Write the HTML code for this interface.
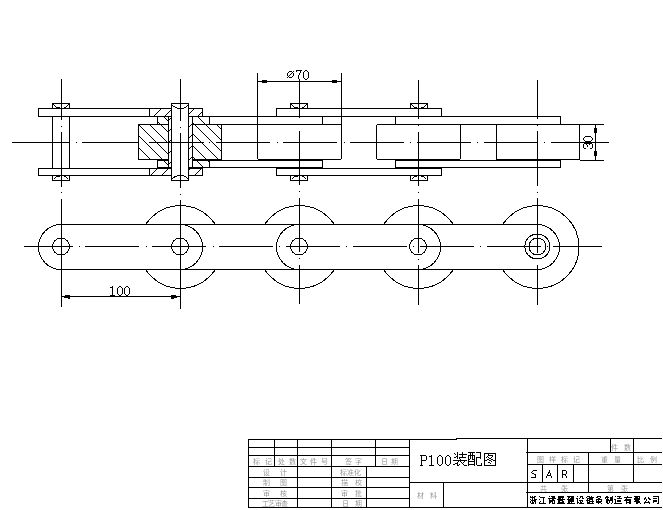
<!DOCTYPE html>
<html><head><meta charset="utf-8"><style>
html,body{margin:0;padding:0;background:#fff;width:663px;height:510px;overflow:hidden}
svg{display:block}
</style></head><body>
<svg width="663" height="510" viewBox="0 0 663 510" shape-rendering="crispEdges" font-family="Liberation Sans, sans-serif">
<path fill="#000" d="M12 142h58v1h-58zM76 142h1v1h-1zM82 142h54v1h-54zM143 142h1v1h-1zM149 142h54v1h-54zM210 142h1v1h-1zM216 142h54v1h-54zM277 142h1v1h-1zM283 142h54v1h-54zM344 142h1v1h-1zM350 142h54v1h-54zM410 142h1v1h-1zM417 142h54v1h-54zM477 142h1v1h-1zM484 142h54v1h-54zM544 142h1v1h-1zM551 142h58v1h-58zM61 79h1v41h-1zM61 132h1v55h-1zM61 199h1v108h-1zM61 126h1v1h-1zM61 192h1v1h-1zM180 79h1v42h-1zM180 133h1v55h-1zM180 200h1v109h-1zM180 127h1v1h-1zM180 194h1v1h-1zM299 81h1v37h-1zM299 131h1v54h-1zM299 198h1v54h-1zM299 265h1v39h-1zM299 191h1v1h-1zM299 258h1v1h-1zM418 80h1v39h-1zM418 132h1v54h-1zM418 199h1v54h-1zM418 265h1v40h-1zM418 125h1v1h-1zM418 192h1v1h-1zM418 259h1v1h-1zM537 80h1v39h-1zM537 131h1v55h-1zM537 198h1v55h-1zM537 265h1v40h-1zM537 125h1v1h-1zM537 192h1v1h-1zM38 108h165v1h-165zM38 116h165v1h-165zM38 108h1v9h-1zM202 108h1v9h-1zM38 168h165v1h-165zM38 175h165v1h-165zM38 168h1v8h-1zM202 168h1v8h-1zM276 108h166v1h-166zM276 116h166v1h-166zM276 108h1v9h-1zM441 108h1v9h-1zM276 168h166v1h-166zM276 175h166v1h-166zM276 168h1v8h-1zM441 168h1v8h-1zM157 116h166v1h-166zM157 124h166v1h-166zM157 116h1v9h-1zM322 116h1v9h-1zM157 160h166v1h-166zM157 167h166v1h-166zM157 160h1v8h-1zM322 160h1v8h-1zM395 116h166v1h-166zM395 124h166v1h-166zM395 116h1v9h-1zM560 116h1v9h-1zM395 160h166v1h-166zM395 167h166v1h-166zM395 160h1v8h-1zM560 160h1v8h-1z"/>
<rect x="257.5" y="124.5" width="84" height="35" rx="2" ry="2" fill="none" stroke="#000" stroke-width="1"/>
<rect x="376.5" y="124.5" width="84" height="35" rx="2" ry="2" fill="none" stroke="#000" stroke-width="1"/>
<rect x="496.5" y="124.5" width="83" height="35" fill="none" stroke="#000" stroke-width="1"/>
<path fill="#000" d="M52 103h18v1h-18zM52 103h1v6h-1zM69 103h1v6h-1zM52 180h18v1h-18zM52 175h1v6h-1zM69 175h1v6h-1z"/>
<path d="M53.5 104.5 L56.5 107.5 L59.5 107.5 M68.5 104.5 L65.5 107.5 L63.5 107.5" fill="none" stroke="#000" stroke-width="1"/>
<path d="M53.5 179.5 L56.5 176.5 L59.5 176.5 M68.5 179.5 L65.5 176.5 L63.5 176.5" fill="none" stroke="#000" stroke-width="1"/>
<path fill="#000" d="M290 103h18v1h-18zM290 103h1v6h-1zM307 103h1v6h-1zM290 180h18v1h-18zM290 175h1v6h-1zM307 175h1v6h-1z"/>
<path d="M291.5 104.5 L294.5 107.5 L297.5 107.5 M306.5 104.5 L303.5 107.5 L301.5 107.5" fill="none" stroke="#000" stroke-width="1"/>
<path d="M291.5 179.5 L294.5 176.5 L297.5 176.5 M306.5 179.5 L303.5 176.5 L301.5 176.5" fill="none" stroke="#000" stroke-width="1"/>
<path fill="#000" d="M410 103h18v1h-18zM410 103h1v6h-1zM427 103h1v6h-1zM410 180h18v1h-18zM410 175h1v6h-1zM427 175h1v6h-1z"/>
<path d="M411.5 104.5 L414.5 107.5 L416.5 107.5 M426.5 104.5 L423.5 107.5 L420.5 107.5" fill="none" stroke="#000" stroke-width="1"/>
<path d="M411.5 179.5 L414.5 176.5 L416.5 176.5 M426.5 179.5 L423.5 176.5 L420.5 176.5" fill="none" stroke="#000" stroke-width="1"/>
<path fill="#000" d="M52 116h1v53h-1zM69 116h1v53h-1z"/>
<path fill="#fff" d="M138 103h84v78h-84z"/>
<path fill="#000" d="M138 158h1v1h-1zM139 159h1v1h-1zM138 147h1v1h-1zM139 148h1v1h-1zM140 149h1v1h-1zM141 150h1v1h-1zM142 151h1v1h-1zM143 152h1v1h-1zM144 153h1v1h-1zM145 154h1v1h-1zM146 155h1v1h-1zM147 156h1v1h-1zM148 157h1v1h-1zM149 158h1v1h-1zM150 159h1v1h-1zM138 135h1v1h-1zM139 136h1v1h-1zM140 137h1v1h-1zM141 138h1v1h-1zM142 139h1v1h-1zM143 140h1v1h-1zM144 141h1v1h-1zM145 142h1v1h-1zM146 143h1v1h-1zM147 144h1v1h-1zM148 145h1v1h-1zM149 146h1v1h-1zM150 147h1v1h-1zM151 148h1v1h-1zM152 149h1v1h-1zM153 150h1v1h-1zM154 151h1v1h-1zM155 152h1v1h-1zM156 153h1v1h-1zM157 154h1v1h-1zM158 155h1v1h-1zM159 156h1v1h-1zM160 157h1v1h-1zM161 158h1v1h-1zM162 159h1v1h-1zM138 124h1v1h-1zM139 125h1v1h-1zM140 126h1v1h-1zM141 127h1v1h-1zM142 128h1v1h-1zM143 129h1v1h-1zM144 130h1v1h-1zM145 131h1v1h-1zM146 132h1v1h-1zM147 133h1v1h-1zM148 134h1v1h-1zM149 135h1v1h-1zM150 136h1v1h-1zM151 137h1v1h-1zM152 138h1v1h-1zM153 139h1v1h-1zM154 140h1v1h-1zM155 141h1v1h-1zM156 142h1v1h-1zM157 143h1v1h-1zM158 144h1v1h-1zM159 145h1v1h-1zM160 146h1v1h-1zM161 147h1v1h-1zM162 148h1v1h-1zM163 149h1v1h-1zM164 150h1v1h-1zM165 151h1v1h-1zM166 152h1v1h-1zM167 153h1v1h-1zM168 154h1v1h-1zM149 124h1v1h-1zM150 125h1v1h-1zM151 126h1v1h-1zM152 127h1v1h-1zM153 128h1v1h-1zM154 129h1v1h-1zM155 130h1v1h-1zM156 131h1v1h-1zM157 132h1v1h-1zM158 133h1v1h-1zM159 134h1v1h-1zM160 135h1v1h-1zM161 136h1v1h-1zM162 137h1v1h-1zM163 138h1v1h-1zM164 139h1v1h-1zM165 140h1v1h-1zM166 141h1v1h-1zM167 142h1v1h-1zM168 143h1v1h-1zM160 124h1v1h-1zM161 125h1v1h-1zM162 126h1v1h-1zM163 127h1v1h-1zM164 128h1v1h-1zM165 129h1v1h-1zM166 130h1v1h-1zM167 131h1v1h-1zM168 132h1v1h-1zM192 156h1v1h-1zM193 157h1v1h-1zM194 158h1v1h-1zM195 159h1v1h-1zM192 145h1v1h-1zM193 146h1v1h-1zM194 147h1v1h-1zM195 148h1v1h-1zM196 149h1v1h-1zM197 150h1v1h-1zM198 151h1v1h-1zM199 152h1v1h-1zM200 153h1v1h-1zM201 154h1v1h-1zM202 155h1v1h-1zM203 156h1v1h-1zM204 157h1v1h-1zM205 158h1v1h-1zM206 159h1v1h-1zM192 133h1v1h-1zM193 134h1v1h-1zM194 135h1v1h-1zM195 136h1v1h-1zM196 137h1v1h-1zM197 138h1v1h-1zM198 139h1v1h-1zM199 140h1v1h-1zM200 141h1v1h-1zM201 142h1v1h-1zM202 143h1v1h-1zM203 144h1v1h-1zM204 145h1v1h-1zM205 146h1v1h-1zM206 147h1v1h-1zM207 148h1v1h-1zM208 149h1v1h-1zM209 150h1v1h-1zM210 151h1v1h-1zM211 152h1v1h-1zM212 153h1v1h-1zM213 154h1v1h-1zM214 155h1v1h-1zM215 156h1v1h-1zM216 157h1v1h-1zM217 158h1v1h-1zM218 159h1v1h-1zM194 124h1v1h-1zM195 125h1v1h-1zM196 126h1v1h-1zM197 127h1v1h-1zM198 128h1v1h-1zM199 129h1v1h-1zM200 130h1v1h-1zM201 131h1v1h-1zM202 132h1v1h-1zM203 133h1v1h-1zM204 134h1v1h-1zM205 135h1v1h-1zM206 136h1v1h-1zM207 137h1v1h-1zM208 138h1v1h-1zM209 139h1v1h-1zM210 140h1v1h-1zM211 141h1v1h-1zM212 142h1v1h-1zM213 143h1v1h-1zM214 144h1v1h-1zM215 145h1v1h-1zM216 146h1v1h-1zM217 147h1v1h-1zM218 148h1v1h-1zM219 149h1v1h-1zM220 150h1v1h-1zM221 151h1v1h-1zM205 124h1v1h-1zM206 125h1v1h-1zM207 126h1v1h-1zM208 127h1v1h-1zM209 128h1v1h-1zM210 129h1v1h-1zM211 130h1v1h-1zM212 131h1v1h-1zM213 132h1v1h-1zM214 133h1v1h-1zM215 134h1v1h-1zM216 135h1v1h-1zM217 136h1v1h-1zM218 137h1v1h-1zM219 138h1v1h-1zM220 139h1v1h-1zM221 140h1v1h-1zM216 124h1v1h-1zM217 125h1v1h-1zM218 126h1v1h-1zM219 127h1v1h-1zM220 128h1v1h-1zM221 129h1v1h-1zM157 121h1v1h-1zM158 122h1v1h-1zM159 123h1v1h-1zM160 124h1v1h-1zM163 116h1v1h-1zM164 117h1v1h-1zM165 118h1v1h-1zM166 119h1v1h-1zM167 120h1v1h-1zM168 121h1v1h-1zM192 122h1v1h-1zM193 123h1v1h-1zM194 124h1v1h-1zM197 116h1v1h-1zM198 117h1v1h-1zM199 118h1v1h-1zM200 119h1v1h-1zM201 120h1v1h-1zM202 121h1v1h-1zM203 122h1v1h-1zM204 123h1v1h-1zM205 124h1v1h-1zM208 116h1v1h-1zM209 117h1v1h-1zM157 166h1v1h-1zM158 167h1v1h-1zM163 160h1v1h-1zM164 161h1v1h-1zM165 162h1v1h-1zM166 163h1v1h-1zM167 164h1v1h-1zM168 165h1v1h-1zM192 167h1v1h-1zM196 160h1v1h-1zM197 161h1v1h-1zM198 162h1v1h-1zM199 163h1v1h-1zM200 164h1v1h-1zM201 165h1v1h-1zM202 166h1v1h-1zM203 167h1v1h-1zM207 160h1v1h-1zM208 161h1v1h-1zM209 162h1v1h-1zM150 108h1v1h-1zM149 109h1v1h-1zM161 108h1v1h-1zM160 109h1v1h-1zM159 110h1v1h-1zM158 111h1v1h-1zM157 112h1v1h-1zM156 113h1v1h-1zM155 114h1v1h-1zM154 115h1v1h-1zM153 116h1v1h-1zM170 110h1v1h-1zM169 111h1v1h-1zM168 112h1v1h-1zM167 113h1v1h-1zM166 114h1v1h-1zM165 115h1v1h-1zM164 116h1v1h-1zM194 108h1v1h-1zM193 109h1v1h-1zM192 110h1v1h-1zM191 111h1v1h-1zM190 112h1v1h-1zM189 113h1v1h-1zM202 111h1v1h-1zM201 112h1v1h-1zM200 113h1v1h-1zM199 114h1v1h-1zM198 115h1v1h-1zM197 116h1v1h-1zM157 168h1v1h-1zM156 169h1v1h-1zM155 170h1v1h-1zM154 171h1v1h-1zM153 172h1v1h-1zM152 173h1v1h-1zM151 174h1v1h-1zM150 175h1v1h-1zM168 168h1v1h-1zM167 169h1v1h-1zM166 170h1v1h-1zM165 171h1v1h-1zM164 172h1v1h-1zM163 173h1v1h-1zM162 174h1v1h-1zM161 175h1v1h-1zM190 168h1v1h-1zM189 169h1v1h-1zM201 168h1v1h-1zM200 169h1v1h-1zM199 170h1v1h-1zM198 171h1v1h-1zM197 172h1v1h-1zM196 173h1v1h-1zM195 174h1v1h-1zM194 175h1v1h-1zM149 108h54v1h-54zM38 116h165v1h-165zM149 108h1v9h-1zM202 108h1v9h-1zM38 108h112v1h-112zM38 168h165v1h-165zM149 175h54v1h-54zM149 168h1v8h-1zM202 168h1v8h-1zM38 175h112v1h-112zM157 124h12v1h-12zM192 124h30v1h-30zM157 116h1v9h-1zM209 116h1v9h-1zM157 160h12v1h-12zM192 160h30v1h-30zM157 160h1v8h-1zM209 160h1v8h-1zM38 116h285v1h-285zM157 167h166v1h-166zM138 124h31v1h-31zM138 159h31v1h-31zM138 124h1v36h-1zM192 124h30v1h-30zM192 159h30v1h-30zM221 124h1v36h-1zM168 116h1v52h-1zM192 116h1v52h-1zM170 118h1v1h-1zM169 119h1v1h-1zM170 129h1v1h-1zM169 130h1v1h-1zM170 140h1v1h-1zM169 141h1v1h-1zM170 151h1v1h-1zM169 152h1v1h-1zM170 162h1v1h-1zM169 163h1v1h-1zM191 124h1v1h-1zM190 125h1v1h-1zM189 126h1v1h-1zM191 135h1v1h-1zM190 136h1v1h-1zM189 137h1v1h-1zM191 146h1v1h-1zM190 147h1v1h-1zM189 148h1v1h-1zM191 157h1v1h-1zM190 158h1v1h-1zM189 159h1v1h-1z"/>
<path fill="#fff" d="M172 104h16v76h-16z"/>
<path fill="#000" d="M171 103h1v78h-1zM188 103h1v78h-1zM171 103h18v1h-18zM171 180h18v1h-18z"/>
<path d="M171.5 104.5 Q175 108.5 180.5 108.5 Q186 108.5 188.5 104.5" fill="none" stroke="#000" stroke-width="1"/>
<path d="M171.5 179.5 Q175 175.5 180.5 175.5 Q186 175.5 188.5 179.5" fill="none" stroke="#000" stroke-width="1"/>
<path fill="#000" d="M180 79h1v42h-1zM180 133h1v55h-1zM180 127h1v1h-1zM130 142h8v1h-8zM149 142h55v1h-55zM209 142h1v1h-1zM216 142h6v1h-6zM257 73h1v52h-1zM341 73h1v52h-1zM257 81h85v1h-85zM262 80h5v3h-5zM332 80h5v3h-5zM580 124h24v1h-24zM580 160h24v1h-24zM595 124h1v37h-1zM594 128h3v5h-3zM594 151h3v5h-3z"/>
<circle cx="180.5" cy="247" r="41.5" fill="none" stroke="#000" stroke-width="1"/>
<circle cx="299.5" cy="247" r="41.5" fill="none" stroke="#000" stroke-width="1"/>
<circle cx="418.5" cy="247" r="41.5" fill="none" stroke="#000" stroke-width="1"/>
<circle cx="537.5" cy="247" r="41.5" fill="none" stroke="#000" stroke-width="1"/>
<path fill="#fff" d="M61 225h477v44h-477z"/>
<circle cx="61.5" cy="247" r="22" fill="#fff"/>
<circle cx="537.5" cy="247" r="22" fill="#fff"/>
<path fill="#000" d="M61 224h477v1h-477zM61 269h477v1h-477z"/>
<path d="M61 224.5 A22.5 22.5 0 0 0 61 269.5" fill="none" stroke="#000" stroke-width="1"/>
<path d="M180 224.5 A22.5 22.5 0 0 1 180 269.5" fill="none" stroke="#000" stroke-width="1"/>
<path d="M299 224.5 A22.5 22.5 0 0 0 299 269.5" fill="none" stroke="#000" stroke-width="1"/>
<path d="M418 224.5 A22.5 22.5 0 0 1 418 269.5" fill="none" stroke="#000" stroke-width="1"/>
<path d="M537 224.5 A22.5 22.5 0 0 1 537 269.5" fill="none" stroke="#000" stroke-width="1"/>
<path fill="#000" d="M24 246h49v1h-49zM79 246h1v1h-1zM85 246h54v1h-54zM146 246h1v1h-1zM152 246h54v1h-54zM213 246h1v1h-1zM219 246h54v1h-54zM279 246h1v1h-1zM286 246h54v1h-54zM346 246h1v1h-1zM353 246h54v1h-54zM413 246h1v1h-1zM420 246h54v1h-54zM480 246h1v1h-1zM487 246h54v1h-54zM547 246h1v1h-1zM553 246h49v1h-49zM61 199h1v108h-1zM180 200h1v109h-1zM299 198h1v54h-1zM299 265h1v39h-1zM299 258h1v1h-1zM418 199h1v54h-1zM418 265h1v40h-1zM418 259h1v1h-1zM537 198h1v55h-1zM537 265h1v40h-1z"/>
<circle cx="61" cy="246.5" r="8.5" fill="none" stroke="#000" stroke-width="1"/>
<circle cx="180" cy="246.5" r="8.5" fill="none" stroke="#000" stroke-width="1"/>
<circle cx="299" cy="246.5" r="8.5" fill="none" stroke="#000" stroke-width="1"/>
<circle cx="418" cy="246.5" r="8.5" fill="none" stroke="#000" stroke-width="1"/>
<circle cx="537.4" cy="246.5" r="8.5" fill="none" stroke="#000" stroke-width="1"/>
<circle cx="537.4" cy="246.5" r="12.5" fill="none" stroke="#000" stroke-width="1"/>
<path fill="#000" d="M61 296h120v1h-120zM65 295h5v1h-5zM64 296h6v1h-6zM64 297h6v1h-6zM68 298h2v1h-2zM171 295h5v1h-5zM171 296h7v1h-7zM171 297h6v1h-6zM171 298h3v1h-3zM420 455h6v1h-6zM421 456h1v1h-1zM426 456h1v1h-1zM421 457h1v1h-1zM426 457h1v1h-1zM421 458h1v1h-1zM426 458h1v1h-1zM421 459h1v1h-1zM426 459h1v1h-1zM421 460h5v1h-5zM421 461h1v1h-1zM421 462h1v1h-1zM421 463h1v1h-1zM421 464h1v1h-1zM420 465h3v1h-3zM431 455h1v1h-1zM429 456h3v1h-3zM431 457h1v1h-1zM431 458h1v1h-1zM431 459h1v1h-1zM431 460h1v1h-1zM431 461h1v1h-1zM431 462h1v1h-1zM431 463h1v1h-1zM431 464h1v1h-1zM429 465h5v1h-5zM439 455h2v1h-2zM438 456h1v1h-1zM441 456h1v1h-1zM437 457h1v1h-1zM442 457h1v1h-1zM437 458h1v1h-1zM442 458h1v1h-1zM437 459h1v1h-1zM442 459h1v1h-1zM437 460h1v1h-1zM442 460h1v1h-1zM437 461h1v1h-1zM442 461h1v1h-1zM437 462h1v1h-1zM442 462h1v1h-1zM437 463h1v1h-1zM442 463h1v1h-1zM438 464h1v1h-1zM441 464h1v1h-1zM439 465h2v1h-2zM447 455h2v1h-2zM446 456h1v1h-1zM449 456h1v1h-1zM445 457h1v1h-1zM450 457h1v1h-1zM445 458h1v1h-1zM450 458h1v1h-1zM445 459h1v1h-1zM450 459h1v1h-1zM445 460h1v1h-1zM450 460h1v1h-1zM445 461h1v1h-1zM450 461h1v1h-1zM445 462h1v1h-1zM450 462h1v1h-1zM445 463h1v1h-1zM450 463h1v1h-1zM446 464h1v1h-1zM449 464h1v1h-1zM447 465h2v1h-2zM533 470h4v1h-4zM532 471h1v1h-1zM531 472h1v1h-1zM532 473h2v1h-2zM534 474h2v1h-2zM535 475h1v1h-1zM535 476h1v1h-1zM531 477h5v1h-5zM549 470h1v1h-1zM549 471h1v1h-1zM548 472h2v1h-2zM548 473h1v1h-1zM550 473h1v1h-1zM547 474h1v1h-1zM550 474h1v1h-1zM547 475h4v1h-4zM546 476h1v1h-1zM551 476h1v1h-1zM546 477h1v1h-1zM551 477h1v1h-1zM562 470h4v1h-4zM562 471h1v1h-1zM566 471h1v1h-1zM562 472h1v1h-1zM566 472h1v1h-1zM562 473h1v1h-1zM566 473h1v1h-1zM562 474h4v1h-4zM562 475h1v1h-1zM565 475h1v1h-1zM562 476h1v1h-1zM566 476h1v1h-1zM562 477h1v1h-1zM566 477h1v1h-1zM289 71h3v1h-3zM293 71h1v1h-1zM288 72h1v1h-1zM292 72h1v1h-1zM287 73h1v1h-1zM291 73h1v1h-1zM293 73h1v1h-1zM287 74h1v1h-1zM290 74h1v1h-1zM293 74h1v1h-1zM287 75h1v1h-1zM289 75h1v1h-1zM293 75h1v1h-1zM288 76h1v1h-1zM292 76h1v1h-1zM287 77h1v1h-1zM289 77h3v1h-3zM296 70h6v1h-6zM296 71h1v1h-1zM300 71h1v1h-1zM300 72h1v1h-1zM299 73h1v1h-1zM299 74h1v1h-1zM298 75h1v1h-1zM298 76h1v1h-1zM298 77h1v1h-1zM298 78h1v1h-1zM299 79h1v1h-1zM299 80h1v1h-1zM305 70h2v1h-2zM304 71h1v1h-1zM307 71h1v1h-1zM303 72h1v1h-1zM308 72h1v1h-1zM303 73h1v1h-1zM308 73h1v1h-1zM303 74h1v1h-1zM308 74h1v1h-1zM303 75h1v1h-1zM308 75h1v1h-1zM303 76h1v1h-1zM308 76h1v1h-1zM303 77h1v1h-1zM308 77h1v1h-1zM304 78h1v1h-1zM307 78h1v1h-1zM305 79h2v1h-2zM112 286h1v1h-1zM110 287h3v1h-3zM112 288h1v1h-1zM112 289h1v1h-1zM112 290h1v1h-1zM112 291h1v1h-1zM112 292h1v1h-1zM112 293h1v1h-1zM112 294h1v1h-1zM110 295h5v1h-5zM119 286h2v1h-2zM118 287h1v1h-1zM121 287h1v1h-1zM117 288h1v1h-1zM122 288h1v1h-1zM117 289h1v1h-1zM122 289h1v1h-1zM117 290h1v1h-1zM122 290h1v1h-1zM117 291h1v1h-1zM122 291h1v1h-1zM117 292h1v1h-1zM122 292h1v1h-1zM117 293h1v1h-1zM122 293h1v1h-1zM118 294h1v1h-1zM121 294h1v1h-1zM119 295h2v1h-2zM126 286h2v1h-2zM125 287h1v1h-1zM128 287h1v1h-1zM124 288h1v1h-1zM129 288h1v1h-1zM124 289h1v1h-1zM129 289h1v1h-1zM124 290h1v1h-1zM129 290h1v1h-1zM124 291h1v1h-1zM129 291h1v1h-1zM124 292h1v1h-1zM129 292h1v1h-1zM124 293h1v1h-1zM129 293h1v1h-1zM125 294h1v1h-1zM128 294h1v1h-1zM126 295h2v1h-2zM583 138h1v2h-1zM584 140h1v1h-1zM584 137h1v1h-1zM585 141h1v1h-1zM585 136h1v1h-1zM586 141h1v1h-1zM586 136h1v1h-1zM587 141h1v1h-1zM587 136h1v1h-1zM588 141h1v1h-1zM588 136h1v1h-1zM589 141h1v1h-1zM589 136h1v1h-1zM590 141h1v1h-1zM590 136h1v1h-1zM591 140h1v1h-1zM591 137h1v1h-1zM592 138h1v2h-1zM583 144h1v4h-1zM584 148h1v1h-1zM584 143h1v1h-1zM585 148h1v1h-1zM585 143h1v1h-1zM586 143h1v2h-1zM587 145h1v2h-1zM587 143h1v1h-1zM588 143h1v1h-1zM589 143h1v2h-1zM590 148h1v1h-1zM590 143h1v1h-1zM591 148h1v1h-1zM591 143h1v1h-1zM592 144h1v4h-1z"/>
<path fill="rgb(192,192,192)" d="M254 458h1v1h-1z"/>
<path fill="rgb(213,213,213)" d="M256 458h3v1h-3z"/>
<path fill="rgb(234,234,234)" d="M259 458h1v1h-1z"/>
<path fill="rgb(213,213,213)" d="M253 459h1v1h-1z"/>
<path fill="rgb(171,171,171)" d="M254 459h1v1h-1z"/>
<path fill="rgb(213,213,213)" d="M255 459h1v1h-1z"/>
<path fill="rgb(171,171,171)" d="M254 460h1v1h-1z"/>
<path fill="rgb(234,234,234)" d="M255 460h1v1h-1z"/>
<path fill="rgb(213,213,213)" d="M256 460h4v1h-4z"/>
<path fill="rgb(234,234,234)" d="M253 461h1v1h-1z"/>
<path fill="rgb(171,171,171)" d="M254 461h1v1h-1z"/>
<path fill="rgb(213,213,213)" d="M255 461h1v1h-1z"/>
<path fill="rgb(192,192,192)" d="M257 461h1v1h-1zM253 462h2v1h-2zM256 462h2v1h-2z"/>
<path fill="rgb(213,213,213)" d="M258 462h1v1h-1z"/>
<path fill="rgb(234,234,234)" d="M259 462h1v1h-1z"/>
<path fill="rgb(192,192,192)" d="M254 463h1v1h-1z"/>
<path fill="rgb(234,234,234)" d="M255 463h1v1h-1z"/>
<path fill="rgb(213,213,213)" d="M256 463h1v1h-1z"/>
<path fill="rgb(192,192,192)" d="M257 463h1v1h-1z"/>
<path fill="rgb(213,213,213)" d="M259 463h1v1h-1z"/>
<path fill="rgb(192,192,192)" d="M254 464h1v1h-1z"/>
<path fill="rgb(234,234,234)" d="M256 464h1v1h-1z"/>
<path fill="rgb(192,192,192)" d="M257 464h1v1h-1z"/>
<path fill="rgb(234,234,234)" d="M259 464h1v1h-1z"/>
<path fill="rgb(192,192,192)" d="M266 458h1v1h-1zM268 458h3v1h-3z"/>
<path fill="rgb(234,234,234)" d="M271 458h1v1h-1zM266 459h2v1h-2zM270 459h2v1h-2z"/>
<path fill="rgb(213,213,213)" d="M265 460h1v1h-1z"/>
<path fill="rgb(171,171,171)" d="M266 460h1v1h-1z"/>
<path fill="rgb(234,234,234)" d="M270 460h2v1h-2z"/>
<path fill="rgb(192,192,192)" d="M266 461h1v1h-1z"/>
<path fill="rgb(171,171,171)" d="M268 461h1v1h-1z"/>
<path fill="rgb(192,192,192)" d="M269 461h2v1h-2z"/>
<path fill="rgb(234,234,234)" d="M271 461h1v1h-1z"/>
<path fill="rgb(192,192,192)" d="M266 462h1v1h-1zM268 462h1v1h-1zM266 463h1v1h-1z"/>
<path fill="rgb(213,213,213)" d="M267 463h1v1h-1z"/>
<path fill="rgb(192,192,192)" d="M268 463h1v1h-1z"/>
<path fill="rgb(213,213,213)" d="M271 463h1v1h-1z"/>
<path fill="rgb(192,192,192)" d="M266 464h1v1h-1z"/>
<path fill="rgb(234,234,234)" d="M267 464h1v1h-1z"/>
<path fill="rgb(192,192,192)" d="M268 464h3v1h-3z"/>
<path fill="rgb(213,213,213)" d="M271 464h1v1h-1z"/>
<path fill="rgb(192,192,192)" d="M279 458h1v1h-1zM282 458h1v1h-1zM279 459h2v1h-2z"/>
<path fill="rgb(213,213,213)" d="M281 459h1v1h-1z"/>
<path fill="rgb(192,192,192)" d="M282 459h1v1h-1z"/>
<path fill="rgb(234,234,234)" d="M278 460h1v1h-1z"/>
<path fill="rgb(192,192,192)" d="M279 460h1v1h-1z"/>
<path fill="rgb(234,234,234)" d="M280 460h1v1h-1z"/>
<path fill="rgb(213,213,213)" d="M281 460h1v1h-1z"/>
<path fill="rgb(192,192,192)" d="M282 460h2v1h-2z"/>
<path fill="rgb(213,213,213)" d="M278 461h1v1h-1z"/>
<path fill="rgb(192,192,192)" d="M279 461h1v1h-1z"/>
<path fill="rgb(213,213,213)" d="M280 461h1v1h-1z"/>
<path fill="rgb(234,234,234)" d="M281 461h1v1h-1z"/>
<path fill="rgb(192,192,192)" d="M282 461h1v1h-1z"/>
<path fill="rgb(213,213,213)" d="M283 461h1v1h-1z"/>
<path fill="rgb(234,234,234)" d="M284 461h1v1h-1zM279 462h1v1h-1z"/>
<path fill="rgb(171,171,171)" d="M280 462h1v1h-1z"/>
<path fill="rgb(192,192,192)" d="M282 462h1v1h-1z"/>
<path fill="rgb(213,213,213)" d="M279 463h1v1h-1z"/>
<path fill="rgb(171,171,171)" d="M280 463h1v1h-1z"/>
<path fill="rgb(234,234,234)" d="M281 463h1v1h-1z"/>
<path fill="rgb(213,213,213)" d="M282 463h1v1h-1zM278 464h1v1h-1z"/>
<path fill="rgb(192,192,192)" d="M279 464h1v1h-1zM281 464h3v1h-3z"/>
<path fill="rgb(213,213,213)" d="M284 464h1v1h-1z"/>
<path fill="rgb(234,234,234)" d="M289 458h1v1h-1z"/>
<path fill="rgb(213,213,213)" d="M290 458h3v1h-3z"/>
<path fill="rgb(192,192,192)" d="M293 458h1v1h-1z"/>
<path fill="rgb(213,213,213)" d="M289 459h1v1h-1z"/>
<path fill="rgb(171,171,171)" d="M290 459h2v1h-2z"/>
<path fill="rgb(213,213,213)" d="M292 459h1v1h-1z"/>
<path fill="rgb(171,171,171)" d="M293 459h1v1h-1z"/>
<path fill="rgb(213,213,213)" d="M294 459h2v1h-2z"/>
<path fill="rgb(192,192,192)" d="M290 460h2v1h-2z"/>
<path fill="rgb(213,213,213)" d="M292 460h1v1h-1z"/>
<path fill="rgb(192,192,192)" d="M293 460h1v1h-1z"/>
<path fill="rgb(213,213,213)" d="M294 460h1v1h-1z"/>
<path fill="rgb(234,234,234)" d="M289 461h1v1h-1z"/>
<path fill="rgb(213,213,213)" d="M290 461h1v1h-1z"/>
<path fill="rgb(234,234,234)" d="M291 461h1v1h-1z"/>
<path fill="rgb(213,213,213)" d="M292 461h1v1h-1z"/>
<path fill="rgb(192,192,192)" d="M293 461h2v1h-2z"/>
<path fill="rgb(234,234,234)" d="M289 462h1v1h-1z"/>
<path fill="rgb(171,171,171)" d="M290 462h1v1h-1z"/>
<path fill="rgb(192,192,192)" d="M291 462h1v1h-1z"/>
<path fill="rgb(234,234,234)" d="M292 462h2v1h-2z"/>
<path fill="rgb(192,192,192)" d="M294 462h1v1h-1zM290 463h2v1h-2z"/>
<path fill="rgb(213,213,213)" d="M293 463h1v1h-1z"/>
<path fill="rgb(192,192,192)" d="M294 463h1v1h-1z"/>
<path fill="rgb(213,213,213)" d="M289 464h4v1h-4z"/>
<path fill="rgb(234,234,234)" d="M293 464h2v1h-2z"/>
<path fill="rgb(213,213,213)" d="M295 464h1v1h-1z"/>
<path fill="rgb(192,192,192)" d="M303 458h1v1h-1z"/>
<path fill="rgb(213,213,213)" d="M300 459h1v1h-1z"/>
<path fill="rgb(192,192,192)" d="M301 459h2v1h-2z"/>
<path fill="rgb(171,171,171)" d="M303 459h1v1h-1z"/>
<path fill="rgb(192,192,192)" d="M304 459h2v1h-2z"/>
<path fill="rgb(213,213,213)" d="M306 459h1v1h-1zM301 460h1v1h-1z"/>
<path fill="rgb(234,234,234)" d="M302 460h1v1h-1zM304 460h1v1h-1z"/>
<path fill="rgb(213,213,213)" d="M305 460h1v1h-1z"/>
<path fill="rgb(171,171,171)" d="M302 461h1v1h-1z"/>
<path fill="rgb(192,192,192)" d="M304 461h1v1h-1z"/>
<path fill="rgb(234,234,234)" d="M302 462h1v1h-1z"/>
<path fill="rgb(171,171,171)" d="M303 462h1v1h-1z"/>
<path fill="rgb(234,234,234)" d="M304 462h1v1h-1z"/>
<path fill="rgb(192,192,192)" d="M302 463h3v1h-3z"/>
<path fill="rgb(213,213,213)" d="M300 464h1v1h-1z"/>
<path fill="rgb(192,192,192)" d="M301 464h1v1h-1z"/>
<path fill="rgb(234,234,234)" d="M302 464h1v1h-1zM304 464h1v1h-1z"/>
<path fill="rgb(192,192,192)" d="M305 464h1v1h-1z"/>
<path fill="rgb(213,213,213)" d="M306 464h1v1h-1zM311 458h1v1h-1z"/>
<path fill="rgb(234,234,234)" d="M312 458h1v1h-1z"/>
<path fill="rgb(213,213,213)" d="M313 458h1v1h-1z"/>
<path fill="rgb(192,192,192)" d="M314 458h1v1h-1zM311 459h1v1h-1z"/>
<path fill="rgb(234,234,234)" d="M312 459h1v1h-1z"/>
<path fill="rgb(192,192,192)" d="M313 459h1v1h-1z"/>
<path fill="rgb(171,171,171)" d="M314 459h1v1h-1z"/>
<path fill="rgb(213,213,213)" d="M315 459h1v1h-1z"/>
<path fill="rgb(234,234,234)" d="M316 459h1v1h-1z"/>
<path fill="rgb(213,213,213)" d="M310 460h1v1h-1z"/>
<path fill="rgb(192,192,192)" d="M311 460h2v1h-2zM314 460h1v1h-1z"/>
<path fill="rgb(213,213,213)" d="M310 461h1v1h-1z"/>
<path fill="rgb(192,192,192)" d="M311 461h1v1h-1z"/>
<path fill="rgb(234,234,234)" d="M312 461h1v1h-1z"/>
<path fill="rgb(192,192,192)" d="M314 461h1v1h-1zM311 462h1v1h-1z"/>
<path fill="rgb(213,213,213)" d="M312 462h1v1h-1z"/>
<path fill="rgb(192,192,192)" d="M313 462h1v1h-1z"/>
<path fill="rgb(171,171,171)" d="M314 462h1v1h-1z"/>
<path fill="rgb(192,192,192)" d="M315 462h1v1h-1z"/>
<path fill="rgb(213,213,213)" d="M316 462h1v1h-1z"/>
<path fill="rgb(192,192,192)" d="M311 463h1v1h-1zM314 463h1v1h-1zM311 464h1v1h-1zM314 464h1v1h-1z"/>
<path fill="rgb(234,234,234)" d="M314 465h1v1h-1z"/>
<path fill="rgb(192,192,192)" d="M322 458h1v1h-1z"/>
<path fill="rgb(213,213,213)" d="M323 458h3v1h-3z"/>
<path fill="rgb(192,192,192)" d="M326 458h1v1h-1zM322 459h1v1h-1zM326 459h1v1h-1z"/>
<path fill="rgb(213,213,213)" d="M322 460h5v1h-5z"/>
<path fill="rgb(234,234,234)" d="M321 461h1v1h-1z"/>
<path fill="rgb(192,192,192)" d="M322 461h2v1h-2z"/>
<path fill="rgb(213,213,213)" d="M324 461h3v1h-3z"/>
<path fill="rgb(234,234,234)" d="M327 461h1v1h-1z"/>
<path fill="rgb(213,213,213)" d="M322 462h1v1h-1z"/>
<path fill="rgb(192,192,192)" d="M323 462h1v1h-1z"/>
<path fill="rgb(213,213,213)" d="M324 462h3v1h-3z"/>
<path fill="rgb(192,192,192)" d="M326 463h1v1h-1z"/>
<path fill="rgb(213,213,213)" d="M324 464h1v1h-1z"/>
<path fill="rgb(192,192,192)" d="M325 464h1v1h-1z"/>
<path fill="rgb(234,234,234)" d="M326 464h1v1h-1z"/>
<path fill="rgb(171,171,171)" d="M346 458h1v1h-1z"/>
<path fill="rgb(213,213,213)" d="M347 458h1v1h-1z"/>
<path fill="rgb(192,192,192)" d="M348 458h2v1h-2z"/>
<path fill="rgb(213,213,213)" d="M350 458h1v1h-1z"/>
<path fill="rgb(234,234,234)" d="M351 458h1v1h-1z"/>
<path fill="rgb(192,192,192)" d="M345 459h1v1h-1z"/>
<path fill="rgb(234,234,234)" d="M346 459h1v1h-1z"/>
<path fill="rgb(213,213,213)" d="M347 459h1v1h-1z"/>
<path fill="rgb(192,192,192)" d="M348 459h1v1h-1z"/>
<path fill="rgb(234,234,234)" d="M349 459h1v1h-1z"/>
<path fill="rgb(213,213,213)" d="M350 459h1v1h-1z"/>
<path fill="rgb(192,192,192)" d="M347 460h1v1h-1z"/>
<path fill="rgb(213,213,213)" d="M348 460h2v1h-2z"/>
<path fill="rgb(234,234,234)" d="M345 461h1v1h-1z"/>
<path fill="rgb(192,192,192)" d="M346 461h2v1h-2z"/>
<path fill="rgb(213,213,213)" d="M348 461h1v1h-1z"/>
<path fill="rgb(192,192,192)" d="M349 461h2v1h-2z"/>
<path fill="rgb(213,213,213)" d="M351 461h1v1h-1z"/>
<path fill="rgb(234,234,234)" d="M346 462h1v1h-1zM348 462h1v1h-1z"/>
<path fill="rgb(213,213,213)" d="M350 462h1v1h-1zM346 463h1v1h-1z"/>
<path fill="rgb(234,234,234)" d="M347 463h1v1h-1z"/>
<path fill="rgb(213,213,213)" d="M348 463h1v1h-1z"/>
<path fill="rgb(234,234,234)" d="M349 463h2v1h-2zM345 464h1v1h-1z"/>
<path fill="rgb(213,213,213)" d="M346 464h1v1h-1z"/>
<path fill="rgb(192,192,192)" d="M347 464h1v1h-1z"/>
<path fill="rgb(213,213,213)" d="M348 464h1v1h-1z"/>
<path fill="rgb(171,171,171)" d="M349 464h1v1h-1z"/>
<path fill="rgb(213,213,213)" d="M350 464h1v1h-1z"/>
<path fill="rgb(234,234,234)" d="M351 464h1v1h-1zM355 458h1v1h-1z"/>
<path fill="rgb(213,213,213)" d="M356 458h2v1h-2z"/>
<path fill="rgb(171,171,171)" d="M358 458h1v1h-1z"/>
<path fill="rgb(213,213,213)" d="M359 458h2v1h-2z"/>
<path fill="rgb(234,234,234)" d="M361 458h1v1h-1z"/>
<path fill="rgb(213,213,213)" d="M355 459h1v1h-1z"/>
<path fill="rgb(234,234,234)" d="M360 459h1v1h-1z"/>
<path fill="rgb(213,213,213)" d="M361 459h1v1h-1z"/>
<path fill="rgb(234,234,234)" d="M356 460h1v1h-1z"/>
<path fill="rgb(213,213,213)" d="M357 460h1v1h-1z"/>
<path fill="rgb(192,192,192)" d="M358 460h1v1h-1z"/>
<path fill="rgb(171,171,171)" d="M359 460h1v1h-1z"/>
<path fill="rgb(234,234,234)" d="M360 460h1v1h-1z"/>
<path fill="rgb(192,192,192)" d="M358 461h1v1h-1z"/>
<path fill="rgb(234,234,234)" d="M359 461h1v1h-1zM355 462h1v1h-1z"/>
<path fill="rgb(192,192,192)" d="M356 462h2v1h-2z"/>
<path fill="rgb(171,171,171)" d="M358 462h1v1h-1z"/>
<path fill="rgb(192,192,192)" d="M359 462h2v1h-2z"/>
<path fill="rgb(234,234,234)" d="M361 462h1v1h-1z"/>
<path fill="rgb(192,192,192)" d="M358 463h1v1h-1z"/>
<path fill="rgb(213,213,213)" d="M357 464h1v1h-1z"/>
<path fill="rgb(192,192,192)" d="M358 464h1v1h-1z"/>
<path fill="rgb(213,213,213)" d="M382 458h1v1h-1z"/>
<path fill="rgb(192,192,192)" d="M383 458h3v1h-3z"/>
<path fill="rgb(213,213,213)" d="M386 458h1v1h-1z"/>
<path fill="rgb(192,192,192)" d="M382 459h1v1h-1zM386 459h1v1h-1zM382 460h1v1h-1zM386 460h1v1h-1zM382 461h5v1h-5zM382 462h1v1h-1zM386 462h1v1h-1zM382 463h1v1h-1zM386 463h1v1h-1zM382 464h5v1h-5z"/>
<path fill="rgb(213,213,213)" d="M392 458h1v1h-1z"/>
<path fill="rgb(234,234,234)" d="M393 458h2v1h-2z"/>
<path fill="rgb(171,171,171)" d="M395 458h1v1h-1z"/>
<path fill="rgb(213,213,213)" d="M396 458h2v1h-2zM391 459h1v1h-1z"/>
<path fill="rgb(171,171,171)" d="M392 459h1v1h-1z"/>
<path fill="rgb(192,192,192)" d="M393 459h1v1h-1z"/>
<path fill="rgb(213,213,213)" d="M394 459h2v1h-2zM397 459h1v1h-1z"/>
<path fill="rgb(192,192,192)" d="M392 460h2v1h-2z"/>
<path fill="rgb(234,234,234)" d="M394 460h1v1h-1z"/>
<path fill="rgb(171,171,171)" d="M395 460h1v1h-1z"/>
<path fill="rgb(213,213,213)" d="M396 460h2v1h-2z"/>
<path fill="rgb(192,192,192)" d="M392 461h2v1h-2z"/>
<path fill="rgb(234,234,234)" d="M394 461h1v1h-1z"/>
<path fill="rgb(192,192,192)" d="M395 461h1v1h-1z"/>
<path fill="rgb(213,213,213)" d="M397 461h1v1h-1zM391 462h1v1h-1z"/>
<path fill="rgb(192,192,192)" d="M392 462h2v1h-2z"/>
<path fill="rgb(213,213,213)" d="M394 462h1v1h-1z"/>
<path fill="rgb(171,171,171)" d="M395 462h1v1h-1z"/>
<path fill="rgb(213,213,213)" d="M396 462h2v1h-2zM392 463h2v1h-2z"/>
<path fill="rgb(234,234,234)" d="M394 463h1v1h-1z"/>
<path fill="rgb(213,213,213)" d="M395 463h1v1h-1zM397 463h1v1h-1zM391 464h1v1h-1z"/>
<path fill="rgb(234,234,234)" d="M392 464h2v1h-2z"/>
<path fill="rgb(192,192,192)" d="M394 464h1v1h-1z"/>
<path fill="rgb(213,213,213)" d="M396 464h2v1h-2z"/>
<path fill="rgb(192,192,192)" d="M264 469h1v1h-1zM266 469h1v1h-1z"/>
<path fill="rgb(213,213,213)" d="M267 469h1v1h-1z"/>
<path fill="rgb(192,192,192)" d="M268 469h1v1h-1z"/>
<path fill="rgb(234,234,234)" d="M264 470h1v1h-1z"/>
<path fill="rgb(213,213,213)" d="M266 470h1v1h-1zM268 470h1v1h-1zM263 471h2v1h-2z"/>
<path fill="rgb(234,234,234)" d="M265 471h1v1h-1z"/>
<path fill="rgb(213,213,213)" d="M266 471h1v1h-1z"/>
<path fill="rgb(192,192,192)" d="M268 471h1v1h-1z"/>
<path fill="rgb(234,234,234)" d="M269 471h1v1h-1z"/>
<path fill="rgb(192,192,192)" d="M264 472h1v1h-1z"/>
<path fill="rgb(234,234,234)" d="M265 472h1v1h-1z"/>
<path fill="rgb(213,213,213)" d="M266 472h3v1h-3z"/>
<path fill="rgb(192,192,192)" d="M264 473h1v1h-1zM266 473h1v1h-1zM268 473h1v1h-1zM264 474h1v1h-1z"/>
<path fill="rgb(213,213,213)" d="M265 474h1v1h-1z"/>
<path fill="rgb(234,234,234)" d="M266 474h1v1h-1z"/>
<path fill="rgb(171,171,171)" d="M267 474h1v1h-1z"/>
<path fill="rgb(234,234,234)" d="M268 474h1v1h-1z"/>
<path fill="rgb(192,192,192)" d="M264 475h1v1h-1z"/>
<path fill="rgb(213,213,213)" d="M265 475h1v1h-1z"/>
<path fill="rgb(192,192,192)" d="M266 475h1v1h-1z"/>
<path fill="rgb(213,213,213)" d="M267 475h1v1h-1z"/>
<path fill="rgb(192,192,192)" d="M268 475h1v1h-1z"/>
<path fill="rgb(213,213,213)" d="M269 475h1v1h-1z"/>
<path fill="rgb(192,192,192)" d="M281 469h1v1h-1zM284 469h1v1h-1z"/>
<path fill="rgb(234,234,234)" d="M281 470h2v1h-2z"/>
<path fill="rgb(192,192,192)" d="M284 470h1v1h-1z"/>
<path fill="rgb(213,213,213)" d="M280 471h2v1h-2z"/>
<path fill="rgb(234,234,234)" d="M282 471h1v1h-1z"/>
<path fill="rgb(192,192,192)" d="M283 471h1v1h-1z"/>
<path fill="rgb(171,171,171)" d="M284 471h1v1h-1z"/>
<path fill="rgb(192,192,192)" d="M285 471h1v1h-1z"/>
<path fill="rgb(213,213,213)" d="M286 471h1v1h-1z"/>
<path fill="rgb(192,192,192)" d="M281 472h1v1h-1zM284 472h1v1h-1zM281 473h1v1h-1zM284 473h1v1h-1zM281 474h1v1h-1z"/>
<path fill="rgb(213,213,213)" d="M282 474h1v1h-1z"/>
<path fill="rgb(192,192,192)" d="M284 474h1v1h-1zM281 475h1v1h-1z"/>
<path fill="rgb(234,234,234)" d="M282 475h1v1h-1z"/>
<path fill="rgb(192,192,192)" d="M284 475h1v1h-1z"/>
<path fill="rgb(234,234,234)" d="M284 476h1v1h-1z"/>
<path fill="rgb(192,192,192)" d="M341 469h1v1h-1z"/>
<path fill="rgb(213,213,213)" d="M343 469h3v1h-3z"/>
<path fill="rgb(234,234,234)" d="M346 469h1v1h-1z"/>
<path fill="rgb(213,213,213)" d="M340 470h1v1h-1z"/>
<path fill="rgb(171,171,171)" d="M341 470h1v1h-1z"/>
<path fill="rgb(213,213,213)" d="M342 470h1v1h-1z"/>
<path fill="rgb(171,171,171)" d="M341 471h1v1h-1z"/>
<path fill="rgb(234,234,234)" d="M342 471h1v1h-1z"/>
<path fill="rgb(213,213,213)" d="M343 471h4v1h-4z"/>
<path fill="rgb(234,234,234)" d="M340 472h1v1h-1z"/>
<path fill="rgb(171,171,171)" d="M341 472h1v1h-1z"/>
<path fill="rgb(213,213,213)" d="M342 472h1v1h-1z"/>
<path fill="rgb(192,192,192)" d="M344 472h1v1h-1zM340 473h2v1h-2zM343 473h2v1h-2z"/>
<path fill="rgb(213,213,213)" d="M345 473h1v1h-1z"/>
<path fill="rgb(234,234,234)" d="M346 473h1v1h-1z"/>
<path fill="rgb(192,192,192)" d="M341 474h1v1h-1z"/>
<path fill="rgb(234,234,234)" d="M342 474h1v1h-1z"/>
<path fill="rgb(213,213,213)" d="M343 474h1v1h-1z"/>
<path fill="rgb(192,192,192)" d="M344 474h1v1h-1z"/>
<path fill="rgb(213,213,213)" d="M346 474h1v1h-1z"/>
<path fill="rgb(192,192,192)" d="M341 475h1v1h-1z"/>
<path fill="rgb(234,234,234)" d="M343 475h1v1h-1z"/>
<path fill="rgb(192,192,192)" d="M344 475h1v1h-1z"/>
<path fill="rgb(234,234,234)" d="M346 475h1v1h-1z"/>
<path fill="rgb(213,213,213)" d="M347 469h1v1h-1zM350 469h2v1h-2z"/>
<path fill="rgb(234,234,234)" d="M347 470h1v1h-1z"/>
<path fill="rgb(213,213,213)" d="M348 470h2v1h-2z"/>
<path fill="rgb(192,192,192)" d="M350 470h3v1h-3z"/>
<path fill="rgb(234,234,234)" d="M353 470h1v1h-1zM348 471h1v1h-1z"/>
<path fill="rgb(171,171,171)" d="M349 471h1v1h-1z"/>
<path fill="rgb(213,213,213)" d="M351 471h1v1h-1z"/>
<path fill="rgb(234,234,234)" d="M348 472h1v1h-1z"/>
<path fill="rgb(192,192,192)" d="M349 472h1v1h-1z"/>
<path fill="rgb(213,213,213)" d="M350 472h1v1h-1z"/>
<path fill="rgb(171,171,171)" d="M351 472h1v1h-1z"/>
<path fill="rgb(213,213,213)" d="M352 472h1v1h-1z"/>
<path fill="rgb(234,234,234)" d="M353 472h1v1h-1z"/>
<path fill="rgb(192,192,192)" d="M348 473h1v1h-1z"/>
<path fill="rgb(213,213,213)" d="M349 473h2v1h-2z"/>
<path fill="rgb(171,171,171)" d="M351 473h1v1h-1z"/>
<path fill="rgb(213,213,213)" d="M352 473h1v1h-1z"/>
<path fill="rgb(234,234,234)" d="M353 473h1v1h-1zM347 474h1v1h-1z"/>
<path fill="rgb(213,213,213)" d="M348 474h2v1h-2zM351 474h1v1h-1zM347 475h1v1h-1zM349 475h1v1h-1z"/>
<path fill="rgb(192,192,192)" d="M350 475h1v1h-1z"/>
<path fill="rgb(213,213,213)" d="M351 475h3v1h-3z"/>
<path fill="rgb(234,234,234)" d="M355 469h1v1h-1z"/>
<path fill="rgb(213,213,213)" d="M356 469h2v1h-2z"/>
<path fill="rgb(234,234,234)" d="M358 469h1v1h-1z"/>
<path fill="rgb(192,192,192)" d="M355 470h1v1h-1z"/>
<path fill="rgb(213,213,213)" d="M357 470h1v1h-1z"/>
<path fill="rgb(234,234,234)" d="M358 470h1v1h-1z"/>
<path fill="rgb(213,213,213)" d="M359 470h1v1h-1z"/>
<path fill="rgb(234,234,234)" d="M360 470h1v1h-1z"/>
<path fill="rgb(213,213,213)" d="M354 471h1v1h-1z"/>
<path fill="rgb(150,150,150)" d="M355 471h1v1h-1z"/>
<path fill="rgb(213,213,213)" d="M357 471h2v1h-2z"/>
<path fill="rgb(192,192,192)" d="M359 471h1v1h-1z"/>
<path fill="rgb(234,234,234)" d="M354 472h1v1h-1z"/>
<path fill="rgb(192,192,192)" d="M355 472h1v1h-1z"/>
<path fill="rgb(213,213,213)" d="M357 472h1v1h-1z"/>
<path fill="rgb(192,192,192)" d="M358 472h1v1h-1zM355 473h1v1h-1z"/>
<path fill="rgb(213,213,213)" d="M356 473h1v1h-1z"/>
<path fill="rgb(171,171,171)" d="M357 473h1v1h-1z"/>
<path fill="rgb(234,234,234)" d="M358 473h1v1h-1z"/>
<path fill="rgb(192,192,192)" d="M355 474h1v1h-1z"/>
<path fill="rgb(213,213,213)" d="M357 474h1v1h-1z"/>
<path fill="rgb(234,234,234)" d="M358 474h1v1h-1z"/>
<path fill="rgb(192,192,192)" d="M360 474h1v1h-1zM355 475h1v1h-1z"/>
<path fill="rgb(234,234,234)" d="M357 475h1v1h-1z"/>
<path fill="rgb(192,192,192)" d="M358 475h2v1h-2z"/>
<path fill="rgb(213,213,213)" d="M360 475h1v1h-1z"/>
<path fill="rgb(234,234,234)" d="M263 479h1v1h-1z"/>
<path fill="rgb(213,213,213)" d="M264 479h2v1h-2z"/>
<path fill="rgb(234,234,234)" d="M267 479h2v1h-2z"/>
<path fill="rgb(213,213,213)" d="M269 479h1v1h-1zM263 480h2v1h-2z"/>
<path fill="rgb(171,171,171)" d="M265 480h1v1h-1z"/>
<path fill="rgb(213,213,213)" d="M266 480h1v1h-1z"/>
<path fill="rgb(234,234,234)" d="M267 480h2v1h-2z"/>
<path fill="rgb(213,213,213)" d="M269 480h1v1h-1z"/>
<path fill="rgb(192,192,192)" d="M263 481h1v1h-1z"/>
<path fill="rgb(213,213,213)" d="M264 481h1v1h-1z"/>
<path fill="rgb(171,171,171)" d="M265 481h1v1h-1z"/>
<path fill="rgb(213,213,213)" d="M266 481h2v1h-2z"/>
<path fill="rgb(234,234,234)" d="M268 481h1v1h-1z"/>
<path fill="rgb(213,213,213)" d="M269 481h1v1h-1zM265 482h1v1h-1z"/>
<path fill="rgb(234,234,234)" d="M267 482h2v1h-2z"/>
<path fill="rgb(213,213,213)" d="M269 482h1v1h-1zM263 483h1v1h-1z"/>
<path fill="rgb(192,192,192)" d="M264 483h1v1h-1z"/>
<path fill="rgb(171,171,171)" d="M265 483h2v1h-2z"/>
<path fill="rgb(234,234,234)" d="M267 483h2v1h-2z"/>
<path fill="rgb(213,213,213)" d="M269 483h1v1h-1zM263 484h1v1h-1z"/>
<path fill="rgb(234,234,234)" d="M264 484h1v1h-1z"/>
<path fill="rgb(213,213,213)" d="M265 484h2v1h-2zM269 484h1v1h-1z"/>
<path fill="rgb(234,234,234)" d="M263 485h1v1h-1z"/>
<path fill="rgb(192,192,192)" d="M265 485h1v1h-1z"/>
<path fill="rgb(213,213,213)" d="M266 485h1v1h-1z"/>
<path fill="rgb(192,192,192)" d="M268 485h1v1h-1z"/>
<path fill="rgb(213,213,213)" d="M269 485h1v1h-1zM280 479h1v1h-1z"/>
<path fill="rgb(192,192,192)" d="M281 479h3v1h-3z"/>
<path fill="rgb(213,213,213)" d="M284 479h1v1h-1z"/>
<path fill="rgb(192,192,192)" d="M285 479h1v1h-1z"/>
<path fill="rgb(213,213,213)" d="M286 479h1v1h-1zM280 480h1v1h-1z"/>
<path fill="rgb(192,192,192)" d="M282 480h1v1h-1z"/>
<path fill="rgb(213,213,213)" d="M283 480h2v1h-2z"/>
<path fill="rgb(234,234,234)" d="M285 480h1v1h-1z"/>
<path fill="rgb(213,213,213)" d="M286 480h1v1h-1zM280 481h2v1h-2z"/>
<path fill="rgb(192,192,192)" d="M282 481h1v1h-1z"/>
<path fill="rgb(213,213,213)" d="M283 481h2v1h-2z"/>
<path fill="rgb(234,234,234)" d="M285 481h1v1h-1z"/>
<path fill="rgb(213,213,213)" d="M286 481h1v1h-1zM280 482h1v1h-1z"/>
<path fill="rgb(234,234,234)" d="M281 482h1v1h-1z"/>
<path fill="rgb(192,192,192)" d="M282 482h3v1h-3z"/>
<path fill="rgb(213,213,213)" d="M285 482h2v1h-2zM280 483h1v1h-1z"/>
<path fill="rgb(234,234,234)" d="M281 483h2v1h-2z"/>
<path fill="rgb(213,213,213)" d="M283 483h1v1h-1z"/>
<path fill="rgb(234,234,234)" d="M284 483h2v1h-2z"/>
<path fill="rgb(213,213,213)" d="M286 483h1v1h-1zM280 484h1v1h-1zM282 484h1v1h-1z"/>
<path fill="rgb(192,192,192)" d="M283 484h1v1h-1z"/>
<path fill="rgb(213,213,213)" d="M284 484h1v1h-1z"/>
<path fill="rgb(234,234,234)" d="M285 484h1v1h-1z"/>
<path fill="rgb(213,213,213)" d="M286 484h1v1h-1zM280 485h1v1h-1z"/>
<path fill="rgb(192,192,192)" d="M281 485h1v1h-1z"/>
<path fill="rgb(213,213,213)" d="M282 485h2v1h-2z"/>
<path fill="rgb(192,192,192)" d="M284 485h2v1h-2z"/>
<path fill="rgb(213,213,213)" d="M286 485h1v1h-1z"/>
<path fill="rgb(234,234,234)" d="M280 486h1v1h-1zM286 486h1v1h-1z"/>
<path fill="rgb(213,213,213)" d="M342 479h1v1h-1z"/>
<path fill="rgb(192,192,192)" d="M344 479h1v1h-1z"/>
<path fill="rgb(213,213,213)" d="M346 479h1v1h-1zM341 480h1v1h-1z"/>
<path fill="rgb(150,150,150)" d="M342 480h1v1h-1z"/>
<path fill="rgb(213,213,213)" d="M343 480h1v1h-1z"/>
<path fill="rgb(192,192,192)" d="M344 480h1v1h-1z"/>
<path fill="rgb(213,213,213)" d="M345 480h1v1h-1z"/>
<path fill="rgb(171,171,171)" d="M346 480h1v1h-1z"/>
<path fill="rgb(213,213,213)" d="M347 480h1v1h-1zM342 481h1v1h-1z"/>
<path fill="rgb(234,234,234)" d="M344 481h1v1h-1zM346 481h1v1h-1z"/>
<path fill="rgb(192,192,192)" d="M342 482h1v1h-1z"/>
<path fill="rgb(213,213,213)" d="M343 482h1v1h-1z"/>
<path fill="rgb(192,192,192)" d="M344 482h1v1h-1z"/>
<path fill="rgb(171,171,171)" d="M345 482h1v1h-1z"/>
<path fill="rgb(192,192,192)" d="M346 482h1v1h-1z"/>
<path fill="rgb(213,213,213)" d="M347 482h1v1h-1zM341 483h1v1h-1z"/>
<path fill="rgb(192,192,192)" d="M342 483h1v1h-1z"/>
<path fill="rgb(234,234,234)" d="M343 483h1v1h-1z"/>
<path fill="rgb(192,192,192)" d="M344 483h1v1h-1z"/>
<path fill="rgb(171,171,171)" d="M345 483h1v1h-1z"/>
<path fill="rgb(192,192,192)" d="M346 483h1v1h-1z"/>
<path fill="rgb(213,213,213)" d="M347 483h1v1h-1zM342 484h1v1h-1z"/>
<path fill="rgb(234,234,234)" d="M343 484h2v1h-2z"/>
<path fill="rgb(213,213,213)" d="M345 484h1v1h-1zM347 484h1v1h-1z"/>
<path fill="rgb(234,234,234)" d="M341 485h1v1h-1z"/>
<path fill="rgb(213,213,213)" d="M342 485h1v1h-1z"/>
<path fill="rgb(234,234,234)" d="M343 485h1v1h-1z"/>
<path fill="rgb(192,192,192)" d="M344 485h1v1h-1z"/>
<path fill="rgb(213,213,213)" d="M345 485h1v1h-1z"/>
<path fill="rgb(192,192,192)" d="M346 485h1v1h-1z"/>
<path fill="rgb(213,213,213)" d="M347 485h1v1h-1zM356 479h1v1h-1z"/>
<path fill="rgb(192,192,192)" d="M359 479h1v1h-1z"/>
<path fill="rgb(234,234,234)" d="M355 480h1v1h-1z"/>
<path fill="rgb(171,171,171)" d="M356 480h1v1h-1z"/>
<path fill="rgb(213,213,213)" d="M357 480h1v1h-1z"/>
<path fill="rgb(192,192,192)" d="M358 480h3v1h-3z"/>
<path fill="rgb(213,213,213)" d="M361 480h1v1h-1z"/>
<path fill="rgb(171,171,171)" d="M356 481h1v1h-1z"/>
<path fill="rgb(192,192,192)" d="M358 481h1v1h-1z"/>
<path fill="rgb(213,213,213)" d="M360 481h1v1h-1z"/>
<path fill="rgb(234,234,234)" d="M361 481h1v1h-1zM355 482h1v1h-1z"/>
<path fill="rgb(171,171,171)" d="M356 482h1v1h-1z"/>
<path fill="rgb(192,192,192)" d="M357 482h2v1h-2z"/>
<path fill="rgb(213,213,213)" d="M360 482h1v1h-1z"/>
<path fill="rgb(234,234,234)" d="M361 482h1v1h-1z"/>
<path fill="rgb(213,213,213)" d="M355 483h1v1h-1z"/>
<path fill="rgb(192,192,192)" d="M356 483h1v1h-1z"/>
<path fill="rgb(234,234,234)" d="M358 483h1v1h-1z"/>
<path fill="rgb(192,192,192)" d="M359 483h1v1h-1z"/>
<path fill="rgb(213,213,213)" d="M360 483h1v1h-1z"/>
<path fill="rgb(234,234,234)" d="M355 484h1v1h-1z"/>
<path fill="rgb(213,213,213)" d="M356 484h1v1h-1z"/>
<path fill="rgb(234,234,234)" d="M358 484h1v1h-1z"/>
<path fill="rgb(171,171,171)" d="M359 484h1v1h-1z"/>
<path fill="rgb(213,213,213)" d="M360 484h1v1h-1zM356 485h1v1h-1z"/>
<path fill="rgb(234,234,234)" d="M357 485h1v1h-1z"/>
<path fill="rgb(192,192,192)" d="M358 485h1v1h-1z"/>
<path fill="rgb(213,213,213)" d="M360 485h2v1h-2z"/>
<path fill="rgb(234,234,234)" d="M263 490h1v1h-1z"/>
<path fill="rgb(213,213,213)" d="M264 490h2v1h-2z"/>
<path fill="rgb(171,171,171)" d="M266 490h1v1h-1z"/>
<path fill="rgb(213,213,213)" d="M267 490h2v1h-2z"/>
<path fill="rgb(234,234,234)" d="M269 490h1v1h-1z"/>
<path fill="rgb(213,213,213)" d="M263 491h1v1h-1z"/>
<path fill="rgb(234,234,234)" d="M266 491h1v1h-1zM268 491h1v1h-1z"/>
<path fill="rgb(213,213,213)" d="M269 491h1v1h-1zM264 492h2v1h-2z"/>
<path fill="rgb(171,171,171)" d="M266 492h1v1h-1z"/>
<path fill="rgb(213,213,213)" d="M267 492h2v1h-2z"/>
<path fill="rgb(171,171,171)" d="M264 493h1v1h-1z"/>
<path fill="rgb(213,213,213)" d="M265 493h1v1h-1z"/>
<path fill="rgb(171,171,171)" d="M266 493h1v1h-1z"/>
<path fill="rgb(213,213,213)" d="M267 493h1v1h-1z"/>
<path fill="rgb(171,171,171)" d="M268 493h1v1h-1z"/>
<path fill="rgb(192,192,192)" d="M264 494h1v1h-1zM266 494h1v1h-1zM268 494h1v1h-1z"/>
<path fill="rgb(171,171,171)" d="M264 495h1v1h-1z"/>
<path fill="rgb(213,213,213)" d="M265 495h1v1h-1z"/>
<path fill="rgb(171,171,171)" d="M266 495h1v1h-1z"/>
<path fill="rgb(213,213,213)" d="M267 495h1v1h-1z"/>
<path fill="rgb(171,171,171)" d="M268 495h1v1h-1z"/>
<path fill="rgb(192,192,192)" d="M266 496h1v1h-1z"/>
<path fill="rgb(213,213,213)" d="M281 490h1v1h-1z"/>
<path fill="rgb(192,192,192)" d="M284 490h1v1h-1z"/>
<path fill="rgb(234,234,234)" d="M280 491h1v1h-1z"/>
<path fill="rgb(171,171,171)" d="M281 491h2v1h-2z"/>
<path fill="rgb(213,213,213)" d="M283 491h1v1h-1z"/>
<path fill="rgb(171,171,171)" d="M284 491h1v1h-1z"/>
<path fill="rgb(213,213,213)" d="M285 491h2v1h-2z"/>
<path fill="rgb(171,171,171)" d="M281 492h1v1h-1z"/>
<path fill="rgb(213,213,213)" d="M283 492h1v1h-1z"/>
<path fill="rgb(234,234,234)" d="M284 492h1v1h-1z"/>
<path fill="rgb(213,213,213)" d="M285 492h1v1h-1z"/>
<path fill="rgb(234,234,234)" d="M280 493h1v1h-1z"/>
<path fill="rgb(171,171,171)" d="M281 493h1v1h-1z"/>
<path fill="rgb(213,213,213)" d="M282 493h1v1h-1z"/>
<path fill="rgb(192,192,192)" d="M283 493h1v1h-1z"/>
<path fill="rgb(171,171,171)" d="M284 493h1v1h-1z"/>
<path fill="rgb(234,234,234)" d="M285 493h2v1h-2z"/>
<path fill="rgb(213,213,213)" d="M280 494h1v1h-1z"/>
<path fill="rgb(192,192,192)" d="M281 494h1v1h-1zM283 494h1v1h-1z"/>
<path fill="rgb(234,234,234)" d="M284 494h1v1h-1z"/>
<path fill="rgb(192,192,192)" d="M285 494h1v1h-1z"/>
<path fill="rgb(234,234,234)" d="M286 494h1v1h-1zM280 495h1v1h-1z"/>
<path fill="rgb(213,213,213)" d="M281 495h1v1h-1z"/>
<path fill="rgb(234,234,234)" d="M283 495h1v1h-1z"/>
<path fill="rgb(192,192,192)" d="M284 495h2v1h-2z"/>
<path fill="rgb(213,213,213)" d="M281 496h1v1h-1z"/>
<path fill="rgb(234,234,234)" d="M282 496h1v1h-1z"/>
<path fill="rgb(192,192,192)" d="M283 496h1v1h-1z"/>
<path fill="rgb(234,234,234)" d="M284 496h2v1h-2z"/>
<path fill="rgb(213,213,213)" d="M286 496h1v1h-1z"/>
<path fill="rgb(234,234,234)" d="M341 490h1v1h-1z"/>
<path fill="rgb(213,213,213)" d="M342 490h2v1h-2z"/>
<path fill="rgb(171,171,171)" d="M344 490h1v1h-1z"/>
<path fill="rgb(213,213,213)" d="M345 490h2v1h-2z"/>
<path fill="rgb(234,234,234)" d="M347 490h1v1h-1z"/>
<path fill="rgb(213,213,213)" d="M341 491h1v1h-1z"/>
<path fill="rgb(234,234,234)" d="M344 491h1v1h-1zM346 491h1v1h-1z"/>
<path fill="rgb(213,213,213)" d="M347 491h1v1h-1zM342 492h2v1h-2z"/>
<path fill="rgb(171,171,171)" d="M344 492h1v1h-1z"/>
<path fill="rgb(213,213,213)" d="M345 492h2v1h-2z"/>
<path fill="rgb(171,171,171)" d="M342 493h1v1h-1z"/>
<path fill="rgb(213,213,213)" d="M343 493h1v1h-1z"/>
<path fill="rgb(171,171,171)" d="M344 493h1v1h-1z"/>
<path fill="rgb(213,213,213)" d="M345 493h1v1h-1z"/>
<path fill="rgb(171,171,171)" d="M346 493h1v1h-1z"/>
<path fill="rgb(192,192,192)" d="M342 494h1v1h-1zM344 494h1v1h-1zM346 494h1v1h-1z"/>
<path fill="rgb(171,171,171)" d="M342 495h1v1h-1z"/>
<path fill="rgb(213,213,213)" d="M343 495h1v1h-1z"/>
<path fill="rgb(171,171,171)" d="M344 495h1v1h-1z"/>
<path fill="rgb(213,213,213)" d="M345 495h1v1h-1z"/>
<path fill="rgb(171,171,171)" d="M346 495h1v1h-1z"/>
<path fill="rgb(192,192,192)" d="M344 496h1v1h-1zM356 490h1v1h-1z"/>
<path fill="rgb(234,234,234)" d="M357 490h1v1h-1z"/>
<path fill="rgb(213,213,213)" d="M358 490h2v1h-2z"/>
<path fill="rgb(234,234,234)" d="M360 490h1v1h-1z"/>
<path fill="rgb(213,213,213)" d="M355 491h1v1h-1z"/>
<path fill="rgb(171,171,171)" d="M356 491h1v1h-1z"/>
<path fill="rgb(213,213,213)" d="M357 491h3v1h-3z"/>
<path fill="rgb(234,234,234)" d="M360 491h1v1h-1z"/>
<path fill="rgb(192,192,192)" d="M356 492h1v1h-1z"/>
<path fill="rgb(234,234,234)" d="M357 492h1v1h-1z"/>
<path fill="rgb(192,192,192)" d="M358 492h3v1h-3z"/>
<path fill="rgb(234,234,234)" d="M361 492h1v1h-1z"/>
<path fill="rgb(192,192,192)" d="M356 493h1v1h-1z"/>
<path fill="rgb(213,213,213)" d="M357 493h3v1h-3z"/>
<path fill="rgb(234,234,234)" d="M360 493h1v1h-1z"/>
<path fill="rgb(213,213,213)" d="M355 494h1v1h-1z"/>
<path fill="rgb(192,192,192)" d="M356 494h1v1h-1z"/>
<path fill="rgb(234,234,234)" d="M357 494h1v1h-1z"/>
<path fill="rgb(213,213,213)" d="M358 494h2v1h-2z"/>
<path fill="rgb(234,234,234)" d="M360 494h1v1h-1z"/>
<path fill="rgb(192,192,192)" d="M356 495h1v1h-1z"/>
<path fill="rgb(234,234,234)" d="M357 495h1v1h-1z"/>
<path fill="rgb(213,213,213)" d="M358 495h2v1h-2z"/>
<path fill="rgb(234,234,234)" d="M360 495h2v1h-2zM355 496h1v1h-1z"/>
<path fill="rgb(192,192,192)" d="M356 496h1v1h-1z"/>
<path fill="rgb(234,234,234)" d="M357 496h1v1h-1z"/>
<path fill="rgb(192,192,192)" d="M358 496h1v1h-1z"/>
<path fill="rgb(213,213,213)" d="M359 496h1v1h-1z"/>
<path fill="rgb(192,192,192)" d="M360 496h1v1h-1z"/>
<path fill="rgb(213,213,213)" d="M361 496h1v1h-1z"/>
<path fill="rgb(234,234,234)" d="M262 501h1v1h-1z"/>
<path fill="rgb(192,192,192)" d="M263 501h2v1h-2z"/>
<path fill="rgb(171,171,171)" d="M265 501h1v1h-1z"/>
<path fill="rgb(192,192,192)" d="M266 501h2v1h-2z"/>
<path fill="rgb(234,234,234)" d="M268 501h1v1h-1z"/>
<path fill="rgb(192,192,192)" d="M265 502h1v1h-1zM265 503h1v1h-1zM265 504h1v1h-1zM265 505h1v1h-1z"/>
<path fill="rgb(213,213,213)" d="M262 506h1v1h-1z"/>
<path fill="rgb(192,192,192)" d="M263 506h5v1h-5z"/>
<path fill="rgb(213,213,213)" d="M268 506h1v1h-1zM268 500h2v1h-2z"/>
<path fill="rgb(171,171,171)" d="M270 500h1v1h-1z"/>
<path fill="rgb(213,213,213)" d="M271 500h1v1h-1z"/>
<path fill="rgb(171,171,171)" d="M272 500h1v1h-1z"/>
<path fill="rgb(213,213,213)" d="M273 500h1v1h-1z"/>
<path fill="rgb(234,234,234)" d="M274 500h1v1h-1z"/>
<path fill="rgb(213,213,213)" d="M270 501h1v1h-1zM272 501h1v1h-1zM269 502h4v1h-4z"/>
<path fill="rgb(234,234,234)" d="M273 502h1v1h-1z"/>
<path fill="rgb(213,213,213)" d="M271 503h1v1h-1z"/>
<path fill="rgb(171,171,171)" d="M272 503h1v1h-1z"/>
<path fill="rgb(234,234,234)" d="M273 503h1v1h-1z"/>
<path fill="rgb(192,192,192)" d="M270 504h1v1h-1z"/>
<path fill="rgb(213,213,213)" d="M271 504h1v1h-1z"/>
<path fill="rgb(192,192,192)" d="M269 505h1v1h-1z"/>
<path fill="rgb(234,234,234)" d="M270 505h1v1h-1z"/>
<path fill="rgb(213,213,213)" d="M274 505h1v1h-1zM269 506h4v1h-4z"/>
<path fill="rgb(192,192,192)" d="M273 506h1v1h-1z"/>
<path fill="rgb(234,234,234)" d="M274 506h1v1h-1zM275 500h1v1h-1z"/>
<path fill="rgb(213,213,213)" d="M276 500h2v1h-2z"/>
<path fill="rgb(171,171,171)" d="M278 500h1v1h-1z"/>
<path fill="rgb(213,213,213)" d="M279 500h2v1h-2z"/>
<path fill="rgb(234,234,234)" d="M281 500h1v1h-1z"/>
<path fill="rgb(213,213,213)" d="M275 501h1v1h-1z"/>
<path fill="rgb(234,234,234)" d="M278 501h1v1h-1zM280 501h1v1h-1z"/>
<path fill="rgb(213,213,213)" d="M281 501h1v1h-1zM276 502h2v1h-2z"/>
<path fill="rgb(171,171,171)" d="M278 502h1v1h-1z"/>
<path fill="rgb(213,213,213)" d="M279 502h2v1h-2z"/>
<path fill="rgb(171,171,171)" d="M276 503h1v1h-1z"/>
<path fill="rgb(213,213,213)" d="M277 503h1v1h-1z"/>
<path fill="rgb(171,171,171)" d="M278 503h1v1h-1z"/>
<path fill="rgb(213,213,213)" d="M279 503h1v1h-1z"/>
<path fill="rgb(171,171,171)" d="M280 503h1v1h-1z"/>
<path fill="rgb(192,192,192)" d="M276 504h1v1h-1zM278 504h1v1h-1zM280 504h1v1h-1z"/>
<path fill="rgb(171,171,171)" d="M276 505h1v1h-1z"/>
<path fill="rgb(213,213,213)" d="M277 505h1v1h-1z"/>
<path fill="rgb(171,171,171)" d="M278 505h1v1h-1z"/>
<path fill="rgb(213,213,213)" d="M279 505h1v1h-1z"/>
<path fill="rgb(171,171,171)" d="M280 505h1v1h-1z"/>
<path fill="rgb(192,192,192)" d="M278 506h1v1h-1zM284 500h1v1h-1z"/>
<path fill="rgb(234,234,234)" d="M281 501h1v1h-1z"/>
<path fill="rgb(213,213,213)" d="M282 501h1v1h-1z"/>
<path fill="rgb(171,171,171)" d="M283 501h3v1h-3z"/>
<path fill="rgb(213,213,213)" d="M286 501h1v1h-1z"/>
<path fill="rgb(234,234,234)" d="M287 501h1v1h-1z"/>
<path fill="rgb(213,213,213)" d="M282 502h2v1h-2z"/>
<path fill="rgb(192,192,192)" d="M284 502h1v1h-1z"/>
<path fill="rgb(213,213,213)" d="M285 502h2v1h-2zM281 503h3v1h-3z"/>
<path fill="rgb(192,192,192)" d="M284 503h1v1h-1z"/>
<path fill="rgb(213,213,213)" d="M285 503h3v1h-3zM282 504h5v1h-5zM282 505h5v1h-5z"/>
<path fill="rgb(234,234,234)" d="M281 506h1v1h-1z"/>
<path fill="rgb(213,213,213)" d="M282 506h5v1h-5z"/>
<path fill="rgb(234,234,234)" d="M287 506h1v1h-1z"/>
<path fill="rgb(213,213,213)" d="M343 500h1v1h-1z"/>
<path fill="rgb(192,192,192)" d="M344 500h3v1h-3z"/>
<path fill="rgb(213,213,213)" d="M347 500h1v1h-1z"/>
<path fill="rgb(192,192,192)" d="M343 501h1v1h-1zM347 501h1v1h-1zM343 502h1v1h-1zM347 502h1v1h-1zM343 503h5v1h-5zM343 504h1v1h-1zM347 504h1v1h-1zM343 505h1v1h-1zM347 505h1v1h-1zM343 506h5v1h-5z"/>
<path fill="rgb(213,213,213)" d="M356 500h1v1h-1z"/>
<path fill="rgb(234,234,234)" d="M357 500h2v1h-2z"/>
<path fill="rgb(171,171,171)" d="M359 500h1v1h-1z"/>
<path fill="rgb(213,213,213)" d="M360 500h2v1h-2zM355 501h1v1h-1z"/>
<path fill="rgb(171,171,171)" d="M356 501h1v1h-1z"/>
<path fill="rgb(192,192,192)" d="M357 501h1v1h-1z"/>
<path fill="rgb(213,213,213)" d="M358 501h2v1h-2zM361 501h1v1h-1z"/>
<path fill="rgb(192,192,192)" d="M356 502h2v1h-2z"/>
<path fill="rgb(234,234,234)" d="M358 502h1v1h-1z"/>
<path fill="rgb(171,171,171)" d="M359 502h1v1h-1z"/>
<path fill="rgb(213,213,213)" d="M360 502h2v1h-2z"/>
<path fill="rgb(192,192,192)" d="M356 503h2v1h-2z"/>
<path fill="rgb(234,234,234)" d="M358 503h1v1h-1z"/>
<path fill="rgb(192,192,192)" d="M359 503h1v1h-1z"/>
<path fill="rgb(213,213,213)" d="M361 503h1v1h-1zM355 504h1v1h-1z"/>
<path fill="rgb(192,192,192)" d="M356 504h2v1h-2z"/>
<path fill="rgb(213,213,213)" d="M358 504h1v1h-1z"/>
<path fill="rgb(171,171,171)" d="M359 504h1v1h-1z"/>
<path fill="rgb(213,213,213)" d="M360 504h2v1h-2zM356 505h2v1h-2z"/>
<path fill="rgb(234,234,234)" d="M358 505h1v1h-1z"/>
<path fill="rgb(213,213,213)" d="M359 505h1v1h-1zM361 505h1v1h-1zM355 506h1v1h-1z"/>
<path fill="rgb(234,234,234)" d="M356 506h2v1h-2z"/>
<path fill="rgb(192,192,192)" d="M358 506h1v1h-1z"/>
<path fill="rgb(213,213,213)" d="M360 506h2v1h-2zM418 492h1v1h-1z"/>
<path fill="rgb(234,234,234)" d="M419 492h1v1h-1z"/>
<path fill="rgb(192,192,192)" d="M422 492h1v1h-1z"/>
<path fill="rgb(234,234,234)" d="M417 493h1v1h-1z"/>
<path fill="rgb(171,171,171)" d="M418 493h1v1h-1z"/>
<path fill="rgb(192,192,192)" d="M419 493h1v1h-1z"/>
<path fill="rgb(213,213,213)" d="M420 493h2v1h-2z"/>
<path fill="rgb(171,171,171)" d="M422 493h1v1h-1z"/>
<path fill="rgb(213,213,213)" d="M423 493h1v1h-1z"/>
<path fill="rgb(192,192,192)" d="M418 494h1v1h-1z"/>
<path fill="rgb(213,213,213)" d="M419 494h1v1h-1z"/>
<path fill="rgb(150,150,150)" d="M422 494h1v1h-1z"/>
<path fill="rgb(171,171,171)" d="M418 495h1v1h-1z"/>
<path fill="rgb(192,192,192)" d="M419 495h1v1h-1zM421 495h2v1h-2z"/>
<path fill="rgb(213,213,213)" d="M417 496h1v1h-1z"/>
<path fill="rgb(192,192,192)" d="M418 496h1v1h-1z"/>
<path fill="rgb(234,234,234)" d="M419 496h1v1h-1z"/>
<path fill="rgb(213,213,213)" d="M420 496h2v1h-2z"/>
<path fill="rgb(192,192,192)" d="M422 496h1v1h-1z"/>
<path fill="rgb(234,234,234)" d="M417 497h1v1h-1z"/>
<path fill="rgb(213,213,213)" d="M418 497h1v1h-1z"/>
<path fill="rgb(234,234,234)" d="M419 497h1v1h-1z"/>
<path fill="rgb(213,213,213)" d="M420 497h1v1h-1z"/>
<path fill="rgb(192,192,192)" d="M422 497h1v1h-1z"/>
<path fill="rgb(213,213,213)" d="M418 498h1v1h-1z"/>
<path fill="rgb(234,234,234)" d="M419 498h1v1h-1z"/>
<path fill="rgb(213,213,213)" d="M421 498h1v1h-1z"/>
<path fill="rgb(192,192,192)" d="M422 498h1v1h-1z"/>
<path fill="rgb(234,234,234)" d="M430 492h1v1h-1z"/>
<path fill="rgb(213,213,213)" d="M431 492h1v1h-1z"/>
<path fill="rgb(234,234,234)" d="M432 492h3v1h-3z"/>
<path fill="rgb(192,192,192)" d="M435 492h1v1h-1z"/>
<path fill="rgb(213,213,213)" d="M430 493h1v1h-1z"/>
<path fill="rgb(192,192,192)" d="M431 493h1v1h-1z"/>
<path fill="rgb(213,213,213)" d="M432 493h1v1h-1zM434 493h1v1h-1z"/>
<path fill="rgb(192,192,192)" d="M435 493h1v1h-1z"/>
<path fill="rgb(213,213,213)" d="M430 494h1v1h-1z"/>
<path fill="rgb(171,171,171)" d="M431 494h1v1h-1z"/>
<path fill="rgb(192,192,192)" d="M432 494h1v1h-1z"/>
<path fill="rgb(234,234,234)" d="M433 494h1v1h-1z"/>
<path fill="rgb(192,192,192)" d="M435 494h1v1h-1z"/>
<path fill="rgb(171,171,171)" d="M431 495h1v1h-1z"/>
<path fill="rgb(234,234,234)" d="M432 495h2v1h-2z"/>
<path fill="rgb(213,213,213)" d="M434 495h1v1h-1z"/>
<path fill="rgb(192,192,192)" d="M435 495h1v1h-1z"/>
<path fill="rgb(234,234,234)" d="M430 496h1v1h-1z"/>
<path fill="rgb(192,192,192)" d="M431 496h2v1h-2z"/>
<path fill="rgb(234,234,234)" d="M433 496h1v1h-1z"/>
<path fill="rgb(213,213,213)" d="M434 496h1v1h-1z"/>
<path fill="rgb(171,171,171)" d="M435 496h1v1h-1z"/>
<path fill="rgb(213,213,213)" d="M436 496h1v1h-1zM430 497h2v1h-2zM433 497h1v1h-1z"/>
<path fill="rgb(234,234,234)" d="M434 497h1v1h-1z"/>
<path fill="rgb(192,192,192)" d="M435 497h1v1h-1z"/>
<path fill="rgb(213,213,213)" d="M431 498h1v1h-1z"/>
<path fill="rgb(192,192,192)" d="M435 498h1v1h-1z"/>
<path fill="rgb(213,213,213)" d="M612 444h1v1h-1z"/>
<path fill="rgb(234,234,234)" d="M613 444h1v1h-1z"/>
<path fill="rgb(213,213,213)" d="M614 444h1v1h-1z"/>
<path fill="rgb(192,192,192)" d="M615 444h1v1h-1zM612 445h1v1h-1z"/>
<path fill="rgb(234,234,234)" d="M613 445h1v1h-1z"/>
<path fill="rgb(192,192,192)" d="M614 445h1v1h-1z"/>
<path fill="rgb(171,171,171)" d="M615 445h1v1h-1z"/>
<path fill="rgb(213,213,213)" d="M616 445h1v1h-1z"/>
<path fill="rgb(234,234,234)" d="M617 445h1v1h-1z"/>
<path fill="rgb(213,213,213)" d="M611 446h1v1h-1z"/>
<path fill="rgb(192,192,192)" d="M612 446h2v1h-2zM615 446h1v1h-1z"/>
<path fill="rgb(213,213,213)" d="M611 447h1v1h-1z"/>
<path fill="rgb(192,192,192)" d="M612 447h1v1h-1z"/>
<path fill="rgb(234,234,234)" d="M613 447h1v1h-1z"/>
<path fill="rgb(192,192,192)" d="M615 447h1v1h-1zM612 448h1v1h-1z"/>
<path fill="rgb(213,213,213)" d="M613 448h1v1h-1z"/>
<path fill="rgb(192,192,192)" d="M614 448h1v1h-1z"/>
<path fill="rgb(171,171,171)" d="M615 448h1v1h-1z"/>
<path fill="rgb(192,192,192)" d="M616 448h1v1h-1z"/>
<path fill="rgb(213,213,213)" d="M617 448h1v1h-1z"/>
<path fill="rgb(192,192,192)" d="M612 449h1v1h-1zM615 449h1v1h-1zM612 450h1v1h-1zM615 450h1v1h-1z"/>
<path fill="rgb(234,234,234)" d="M615 451h1v1h-1zM624 444h1v1h-1z"/>
<path fill="rgb(213,213,213)" d="M625 444h3v1h-3z"/>
<path fill="rgb(192,192,192)" d="M628 444h1v1h-1z"/>
<path fill="rgb(213,213,213)" d="M624 445h1v1h-1z"/>
<path fill="rgb(171,171,171)" d="M625 445h2v1h-2z"/>
<path fill="rgb(213,213,213)" d="M627 445h1v1h-1z"/>
<path fill="rgb(171,171,171)" d="M628 445h1v1h-1z"/>
<path fill="rgb(213,213,213)" d="M629 445h2v1h-2z"/>
<path fill="rgb(192,192,192)" d="M625 446h2v1h-2z"/>
<path fill="rgb(213,213,213)" d="M627 446h1v1h-1z"/>
<path fill="rgb(192,192,192)" d="M628 446h1v1h-1z"/>
<path fill="rgb(213,213,213)" d="M629 446h1v1h-1z"/>
<path fill="rgb(234,234,234)" d="M624 447h1v1h-1z"/>
<path fill="rgb(213,213,213)" d="M625 447h1v1h-1z"/>
<path fill="rgb(234,234,234)" d="M626 447h1v1h-1z"/>
<path fill="rgb(213,213,213)" d="M627 447h1v1h-1z"/>
<path fill="rgb(192,192,192)" d="M628 447h2v1h-2z"/>
<path fill="rgb(234,234,234)" d="M624 448h1v1h-1z"/>
<path fill="rgb(171,171,171)" d="M625 448h1v1h-1z"/>
<path fill="rgb(192,192,192)" d="M626 448h1v1h-1z"/>
<path fill="rgb(234,234,234)" d="M627 448h2v1h-2z"/>
<path fill="rgb(192,192,192)" d="M629 448h1v1h-1zM625 449h2v1h-2z"/>
<path fill="rgb(213,213,213)" d="M628 449h1v1h-1z"/>
<path fill="rgb(192,192,192)" d="M629 449h1v1h-1z"/>
<path fill="rgb(213,213,213)" d="M624 450h4v1h-4z"/>
<path fill="rgb(234,234,234)" d="M628 450h2v1h-2z"/>
<path fill="rgb(213,213,213)" d="M630 450h1v1h-1zM537 456h1v1h-1z"/>
<path fill="rgb(192,192,192)" d="M538 456h3v1h-3z"/>
<path fill="rgb(213,213,213)" d="M541 456h1v1h-1z"/>
<path fill="rgb(192,192,192)" d="M542 456h1v1h-1z"/>
<path fill="rgb(213,213,213)" d="M543 456h1v1h-1zM537 457h1v1h-1z"/>
<path fill="rgb(192,192,192)" d="M539 457h1v1h-1z"/>
<path fill="rgb(213,213,213)" d="M540 457h2v1h-2z"/>
<path fill="rgb(234,234,234)" d="M542 457h1v1h-1z"/>
<path fill="rgb(213,213,213)" d="M543 457h1v1h-1zM537 458h2v1h-2z"/>
<path fill="rgb(192,192,192)" d="M539 458h1v1h-1z"/>
<path fill="rgb(213,213,213)" d="M540 458h2v1h-2z"/>
<path fill="rgb(234,234,234)" d="M542 458h1v1h-1z"/>
<path fill="rgb(213,213,213)" d="M543 458h1v1h-1zM537 459h1v1h-1z"/>
<path fill="rgb(234,234,234)" d="M538 459h1v1h-1z"/>
<path fill="rgb(192,192,192)" d="M539 459h3v1h-3z"/>
<path fill="rgb(213,213,213)" d="M542 459h2v1h-2zM537 460h1v1h-1z"/>
<path fill="rgb(234,234,234)" d="M538 460h2v1h-2z"/>
<path fill="rgb(213,213,213)" d="M540 460h1v1h-1z"/>
<path fill="rgb(234,234,234)" d="M541 460h2v1h-2z"/>
<path fill="rgb(213,213,213)" d="M543 460h1v1h-1zM537 461h1v1h-1zM539 461h1v1h-1z"/>
<path fill="rgb(192,192,192)" d="M540 461h1v1h-1z"/>
<path fill="rgb(213,213,213)" d="M541 461h1v1h-1z"/>
<path fill="rgb(234,234,234)" d="M542 461h1v1h-1z"/>
<path fill="rgb(213,213,213)" d="M543 461h1v1h-1zM537 462h1v1h-1z"/>
<path fill="rgb(192,192,192)" d="M538 462h1v1h-1z"/>
<path fill="rgb(213,213,213)" d="M539 462h2v1h-2z"/>
<path fill="rgb(192,192,192)" d="M541 462h2v1h-2z"/>
<path fill="rgb(213,213,213)" d="M543 462h1v1h-1z"/>
<path fill="rgb(234,234,234)" d="M537 463h1v1h-1zM543 463h1v1h-1z"/>
<path fill="rgb(213,213,213)" d="M550 456h1v1h-1z"/>
<path fill="rgb(192,192,192)" d="M552 456h1v1h-1z"/>
<path fill="rgb(213,213,213)" d="M554 456h1v1h-1z"/>
<path fill="rgb(234,234,234)" d="M555 456h1v1h-1z"/>
<path fill="rgb(213,213,213)" d="M549 457h1v1h-1z"/>
<path fill="rgb(171,171,171)" d="M550 457h1v1h-1z"/>
<path fill="rgb(213,213,213)" d="M551 457h1v1h-1z"/>
<path fill="rgb(192,192,192)" d="M552 457h2v1h-2z"/>
<path fill="rgb(171,171,171)" d="M554 457h1v1h-1z"/>
<path fill="rgb(234,234,234)" d="M555 457h1v1h-1z"/>
<path fill="rgb(171,171,171)" d="M550 458h1v1h-1z"/>
<path fill="rgb(192,192,192)" d="M553 458h1v1h-1z"/>
<path fill="rgb(234,234,234)" d="M549 459h1v1h-1z"/>
<path fill="rgb(171,171,171)" d="M550 459h1v1h-1z"/>
<path fill="rgb(213,213,213)" d="M551 459h2v1h-2z"/>
<path fill="rgb(171,171,171)" d="M553 459h1v1h-1z"/>
<path fill="rgb(213,213,213)" d="M554 459h1v1h-1z"/>
<path fill="rgb(234,234,234)" d="M555 459h1v1h-1z"/>
<path fill="rgb(213,213,213)" d="M549 460h1v1h-1z"/>
<path fill="rgb(192,192,192)" d="M550 460h1v1h-1z"/>
<path fill="rgb(234,234,234)" d="M551 460h1v1h-1z"/>
<path fill="rgb(213,213,213)" d="M552 460h1v1h-1z"/>
<path fill="rgb(171,171,171)" d="M553 460h1v1h-1z"/>
<path fill="rgb(213,213,213)" d="M554 460h2v1h-2zM550 461h1v1h-1z"/>
<path fill="rgb(192,192,192)" d="M553 461h1v1h-1z"/>
<path fill="rgb(213,213,213)" d="M550 462h1v1h-1z"/>
<path fill="rgb(192,192,192)" d="M553 462h1v1h-1zM562 456h1v1h-1z"/>
<path fill="rgb(213,213,213)" d="M564 456h3v1h-3z"/>
<path fill="rgb(234,234,234)" d="M567 456h1v1h-1z"/>
<path fill="rgb(213,213,213)" d="M561 457h1v1h-1z"/>
<path fill="rgb(171,171,171)" d="M562 457h1v1h-1z"/>
<path fill="rgb(213,213,213)" d="M563 457h1v1h-1z"/>
<path fill="rgb(171,171,171)" d="M562 458h1v1h-1z"/>
<path fill="rgb(234,234,234)" d="M563 458h1v1h-1z"/>
<path fill="rgb(213,213,213)" d="M564 458h4v1h-4z"/>
<path fill="rgb(234,234,234)" d="M561 459h1v1h-1z"/>
<path fill="rgb(171,171,171)" d="M562 459h1v1h-1z"/>
<path fill="rgb(213,213,213)" d="M563 459h1v1h-1z"/>
<path fill="rgb(192,192,192)" d="M565 459h1v1h-1zM561 460h2v1h-2zM564 460h2v1h-2z"/>
<path fill="rgb(213,213,213)" d="M566 460h1v1h-1z"/>
<path fill="rgb(234,234,234)" d="M567 460h1v1h-1z"/>
<path fill="rgb(192,192,192)" d="M562 461h1v1h-1z"/>
<path fill="rgb(234,234,234)" d="M563 461h1v1h-1z"/>
<path fill="rgb(213,213,213)" d="M564 461h1v1h-1z"/>
<path fill="rgb(192,192,192)" d="M565 461h1v1h-1z"/>
<path fill="rgb(213,213,213)" d="M567 461h1v1h-1z"/>
<path fill="rgb(192,192,192)" d="M562 462h1v1h-1z"/>
<path fill="rgb(234,234,234)" d="M564 462h1v1h-1z"/>
<path fill="rgb(192,192,192)" d="M565 462h1v1h-1z"/>
<path fill="rgb(234,234,234)" d="M567 462h1v1h-1z"/>
<path fill="rgb(192,192,192)" d="M574 456h1v1h-1zM576 456h3v1h-3z"/>
<path fill="rgb(234,234,234)" d="M579 456h1v1h-1zM574 457h2v1h-2zM578 457h2v1h-2z"/>
<path fill="rgb(213,213,213)" d="M573 458h1v1h-1z"/>
<path fill="rgb(171,171,171)" d="M574 458h1v1h-1z"/>
<path fill="rgb(234,234,234)" d="M578 458h2v1h-2z"/>
<path fill="rgb(192,192,192)" d="M574 459h1v1h-1z"/>
<path fill="rgb(171,171,171)" d="M576 459h1v1h-1z"/>
<path fill="rgb(192,192,192)" d="M577 459h2v1h-2z"/>
<path fill="rgb(234,234,234)" d="M579 459h1v1h-1z"/>
<path fill="rgb(192,192,192)" d="M574 460h1v1h-1zM576 460h1v1h-1zM574 461h1v1h-1z"/>
<path fill="rgb(213,213,213)" d="M575 461h1v1h-1z"/>
<path fill="rgb(192,192,192)" d="M576 461h1v1h-1z"/>
<path fill="rgb(213,213,213)" d="M579 461h1v1h-1z"/>
<path fill="rgb(192,192,192)" d="M574 462h1v1h-1z"/>
<path fill="rgb(234,234,234)" d="M575 462h1v1h-1z"/>
<path fill="rgb(192,192,192)" d="M576 462h3v1h-3z"/>
<path fill="rgb(213,213,213)" d="M579 462h1v1h-1z"/>
<path fill="rgb(234,234,234)" d="M602 456h1v1h-1z"/>
<path fill="rgb(213,213,213)" d="M604 456h1v1h-1z"/>
<path fill="rgb(192,192,192)" d="M605 456h1v1h-1z"/>
<path fill="rgb(213,213,213)" d="M606 456h1v1h-1z"/>
<path fill="rgb(234,234,234)" d="M601 457h1v1h-1z"/>
<path fill="rgb(213,213,213)" d="M602 457h2v1h-2z"/>
<path fill="rgb(171,171,171)" d="M604 457h1v1h-1z"/>
<path fill="rgb(213,213,213)" d="M605 457h2v1h-2z"/>
<path fill="rgb(234,234,234)" d="M607 457h1v1h-1z"/>
<path fill="rgb(213,213,213)" d="M602 458h2v1h-2z"/>
<path fill="rgb(171,171,171)" d="M604 458h1v1h-1z"/>
<path fill="rgb(213,213,213)" d="M605 458h2v1h-2z"/>
<path fill="rgb(192,192,192)" d="M602 459h1v1h-1z"/>
<path fill="rgb(213,213,213)" d="M603 459h1v1h-1z"/>
<path fill="rgb(192,192,192)" d="M604 459h1v1h-1z"/>
<path fill="rgb(213,213,213)" d="M605 459h1v1h-1z"/>
<path fill="rgb(192,192,192)" d="M606 459h1v1h-1zM602 460h1v1h-1z"/>
<path fill="rgb(213,213,213)" d="M603 460h1v1h-1z"/>
<path fill="rgb(171,171,171)" d="M604 460h1v1h-1z"/>
<path fill="rgb(213,213,213)" d="M605 460h1v1h-1z"/>
<path fill="rgb(192,192,192)" d="M606 460h1v1h-1z"/>
<path fill="rgb(213,213,213)" d="M602 461h2v1h-2z"/>
<path fill="rgb(171,171,171)" d="M604 461h1v1h-1z"/>
<path fill="rgb(213,213,213)" d="M605 461h2v1h-2z"/>
<path fill="rgb(234,234,234)" d="M601 462h1v1h-1z"/>
<path fill="rgb(213,213,213)" d="M602 462h2v1h-2z"/>
<path fill="rgb(171,171,171)" d="M604 462h1v1h-1z"/>
<path fill="rgb(213,213,213)" d="M605 462h2v1h-2z"/>
<path fill="rgb(234,234,234)" d="M607 462h1v1h-1z"/>
<path fill="rgb(192,192,192)" d="M615 456h1v1h-1z"/>
<path fill="rgb(213,213,213)" d="M616 456h3v1h-3z"/>
<path fill="rgb(192,192,192)" d="M619 456h1v1h-1zM615 457h5v1h-5z"/>
<path fill="rgb(234,234,234)" d="M614 458h1v1h-1z"/>
<path fill="rgb(213,213,213)" d="M615 458h5v1h-5z"/>
<path fill="rgb(234,234,234)" d="M620 458h1v1h-1z"/>
<path fill="rgb(192,192,192)" d="M615 459h1v1h-1z"/>
<path fill="rgb(213,213,213)" d="M616 459h1v1h-1z"/>
<path fill="rgb(192,192,192)" d="M617 459h1v1h-1z"/>
<path fill="rgb(213,213,213)" d="M618 459h1v1h-1z"/>
<path fill="rgb(192,192,192)" d="M619 459h1v1h-1zM615 460h1v1h-1z"/>
<path fill="rgb(213,213,213)" d="M616 460h1v1h-1z"/>
<path fill="rgb(171,171,171)" d="M617 460h1v1h-1z"/>
<path fill="rgb(213,213,213)" d="M618 460h1v1h-1z"/>
<path fill="rgb(171,171,171)" d="M619 460h1v1h-1z"/>
<path fill="rgb(213,213,213)" d="M615 461h1v1h-1z"/>
<path fill="rgb(192,192,192)" d="M616 461h1v1h-1z"/>
<path fill="rgb(171,171,171)" d="M617 461h1v1h-1z"/>
<path fill="rgb(192,192,192)" d="M618 461h2v1h-2z"/>
<path fill="rgb(234,234,234)" d="M614 462h1v1h-1z"/>
<path fill="rgb(213,213,213)" d="M615 462h2v1h-2z"/>
<path fill="rgb(171,171,171)" d="M617 462h1v1h-1z"/>
<path fill="rgb(213,213,213)" d="M618 462h2v1h-2z"/>
<path fill="rgb(234,234,234)" d="M620 462h1v1h-1zM637 456h1v1h-1z"/>
<path fill="rgb(213,213,213)" d="M638 456h1v1h-1z"/>
<path fill="rgb(234,234,234)" d="M640 456h2v1h-2zM637 457h1v1h-1z"/>
<path fill="rgb(213,213,213)" d="M638 457h1v1h-1z"/>
<path fill="rgb(234,234,234)" d="M640 457h4v1h-4zM637 458h1v1h-1z"/>
<path fill="rgb(171,171,171)" d="M638 458h1v1h-1z"/>
<path fill="rgb(192,192,192)" d="M639 458h1v1h-1z"/>
<path fill="rgb(213,213,213)" d="M640 458h2v1h-2z"/>
<path fill="rgb(192,192,192)" d="M642 458h1v1h-1z"/>
<path fill="rgb(234,234,234)" d="M637 459h1v1h-1z"/>
<path fill="rgb(213,213,213)" d="M638 459h1v1h-1z"/>
<path fill="rgb(234,234,234)" d="M640 459h1v1h-1z"/>
<path fill="rgb(192,192,192)" d="M641 459h1v1h-1z"/>
<path fill="rgb(234,234,234)" d="M637 460h1v1h-1z"/>
<path fill="rgb(213,213,213)" d="M638 460h1v1h-1z"/>
<path fill="rgb(234,234,234)" d="M640 460h2v1h-2zM643 460h1v1h-1zM637 461h1v1h-1z"/>
<path fill="rgb(213,213,213)" d="M638 461h1v1h-1z"/>
<path fill="rgb(234,234,234)" d="M639 461h1v1h-1z"/>
<path fill="rgb(213,213,213)" d="M640 461h1v1h-1z"/>
<path fill="rgb(234,234,234)" d="M641 461h1v1h-1z"/>
<path fill="rgb(192,192,192)" d="M643 461h1v1h-1z"/>
<path fill="rgb(234,234,234)" d="M637 462h1v1h-1z"/>
<path fill="rgb(171,171,171)" d="M638 462h1v1h-1z"/>
<path fill="rgb(213,213,213)" d="M639 462h1v1h-1z"/>
<path fill="rgb(234,234,234)" d="M640 462h1v1h-1z"/>
<path fill="rgb(192,192,192)" d="M641 462h2v1h-2z"/>
<path fill="rgb(213,213,213)" d="M643 462h1v1h-1z"/>
<path fill="rgb(192,192,192)" d="M651 456h1v1h-1z"/>
<path fill="rgb(213,213,213)" d="M652 456h2v1h-2z"/>
<path fill="rgb(234,234,234)" d="M654 456h1v1h-1z"/>
<path fill="rgb(213,213,213)" d="M656 456h1v1h-1z"/>
<path fill="rgb(192,192,192)" d="M651 457h1v1h-1z"/>
<path fill="rgb(213,213,213)" d="M652 457h1v1h-1z"/>
<path fill="rgb(234,234,234)" d="M653 457h2v1h-2z"/>
<path fill="rgb(213,213,213)" d="M655 457h2v1h-2z"/>
<path fill="rgb(192,192,192)" d="M650 458h1v1h-1z"/>
<path fill="rgb(213,213,213)" d="M651 458h1v1h-1z"/>
<path fill="rgb(192,192,192)" d="M652 458h2v1h-2z"/>
<path fill="rgb(213,213,213)" d="M654 458h3v1h-3z"/>
<path fill="rgb(234,234,234)" d="M650 459h1v1h-1z"/>
<path fill="rgb(192,192,192)" d="M651 459h2v1h-2z"/>
<path fill="rgb(213,213,213)" d="M653 459h4v1h-4z"/>
<path fill="rgb(192,192,192)" d="M651 460h1v1h-1z"/>
<path fill="rgb(234,234,234)" d="M652 460h1v1h-1z"/>
<path fill="rgb(171,171,171)" d="M653 460h1v1h-1z"/>
<path fill="rgb(234,234,234)" d="M654 460h1v1h-1z"/>
<path fill="rgb(213,213,213)" d="M655 460h2v1h-2zM651 461h1v1h-1z"/>
<path fill="rgb(234,234,234)" d="M652 461h1v1h-1z"/>
<path fill="rgb(213,213,213)" d="M653 461h1v1h-1zM656 461h1v1h-1zM651 462h1v1h-1z"/>
<path fill="rgb(192,192,192)" d="M652 462h1v1h-1z"/>
<path fill="rgb(213,213,213)" d="M655 462h2v1h-2zM542 485h1v1h-1zM544 485h1v1h-1z"/>
<path fill="rgb(234,234,234)" d="M540 486h1v1h-1z"/>
<path fill="rgb(192,192,192)" d="M541 486h1v1h-1z"/>
<path fill="rgb(171,171,171)" d="M542 486h1v1h-1z"/>
<path fill="rgb(213,213,213)" d="M543 486h1v1h-1z"/>
<path fill="rgb(171,171,171)" d="M544 486h1v1h-1z"/>
<path fill="rgb(192,192,192)" d="M545 486h1v1h-1z"/>
<path fill="rgb(234,234,234)" d="M546 486h1v1h-1z"/>
<path fill="rgb(213,213,213)" d="M542 487h1v1h-1zM544 487h1v1h-1zM542 488h1v1h-1zM544 488h1v1h-1zM540 489h1v1h-1z"/>
<path fill="rgb(192,192,192)" d="M541 489h5v1h-5z"/>
<path fill="rgb(213,213,213)" d="M546 489h1v1h-1z"/>
<path fill="rgb(234,234,234)" d="M541 490h1v1h-1z"/>
<path fill="rgb(213,213,213)" d="M542 490h1v1h-1zM544 490h1v1h-1z"/>
<path fill="rgb(234,234,234)" d="M545 490h1v1h-1zM540 491h1v1h-1z"/>
<path fill="rgb(192,192,192)" d="M541 491h1v1h-1zM545 491h1v1h-1z"/>
<path fill="rgb(234,234,234)" d="M546 491h1v1h-1zM561 485h1v1h-1z"/>
<path fill="rgb(213,213,213)" d="M562 485h1v1h-1z"/>
<path fill="rgb(192,192,192)" d="M563 485h2v1h-2z"/>
<path fill="rgb(213,213,213)" d="M566 485h1v1h-1z"/>
<path fill="rgb(234,234,234)" d="M567 485h1v1h-1z"/>
<path fill="rgb(213,213,213)" d="M562 486h1v1h-1z"/>
<path fill="rgb(192,192,192)" d="M563 486h2v1h-2z"/>
<path fill="rgb(213,213,213)" d="M565 486h2v1h-2z"/>
<path fill="rgb(234,234,234)" d="M561 487h2v1h-2z"/>
<path fill="rgb(192,192,192)" d="M564 487h1v1h-1z"/>
<path fill="rgb(234,234,234)" d="M565 487h1v1h-1z"/>
<path fill="rgb(213,213,213)" d="M561 488h1v1h-1z"/>
<path fill="rgb(234,234,234)" d="M562 488h2v1h-2z"/>
<path fill="rgb(171,171,171)" d="M564 488h1v1h-1z"/>
<path fill="rgb(192,192,192)" d="M565 488h2v1h-2z"/>
<path fill="rgb(213,213,213)" d="M567 488h1v1h-1z"/>
<path fill="rgb(234,234,234)" d="M561 489h1v1h-1z"/>
<path fill="rgb(213,213,213)" d="M562 489h1v1h-1z"/>
<path fill="rgb(192,192,192)" d="M563 489h2v1h-2z"/>
<path fill="rgb(213,213,213)" d="M566 489h1v1h-1zM563 490h1v1h-1z"/>
<path fill="rgb(192,192,192)" d="M564 490h1v1h-1zM566 490h1v1h-1z"/>
<path fill="rgb(234,234,234)" d="M561 491h1v1h-1z"/>
<path fill="rgb(192,192,192)" d="M562 491h1v1h-1z"/>
<path fill="rgb(234,234,234)" d="M563 491h1v1h-1z"/>
<path fill="rgb(192,192,192)" d="M564 491h2v1h-2z"/>
<path fill="rgb(213,213,213)" d="M567 491h1v1h-1z"/>
<path fill="rgb(171,171,171)" d="M608 485h1v1h-1z"/>
<path fill="rgb(213,213,213)" d="M609 485h1v1h-1z"/>
<path fill="rgb(234,234,234)" d="M610 485h1v1h-1z"/>
<path fill="rgb(171,171,171)" d="M611 485h1v1h-1z"/>
<path fill="rgb(213,213,213)" d="M612 485h1v1h-1z"/>
<path fill="rgb(234,234,234)" d="M613 485h1v1h-1z"/>
<path fill="rgb(213,213,213)" d="M607 486h1v1h-1z"/>
<path fill="rgb(234,234,234)" d="M608 486h1v1h-1z"/>
<path fill="rgb(213,213,213)" d="M609 486h2v1h-2z"/>
<path fill="rgb(234,234,234)" d="M611 486h1v1h-1z"/>
<path fill="rgb(213,213,213)" d="M612 486h1v1h-1zM608 487h2v1h-2z"/>
<path fill="rgb(171,171,171)" d="M610 487h1v1h-1z"/>
<path fill="rgb(213,213,213)" d="M611 487h1v1h-1z"/>
<path fill="rgb(192,192,192)" d="M612 487h1v1h-1z"/>
<path fill="rgb(213,213,213)" d="M608 488h2v1h-2z"/>
<path fill="rgb(171,171,171)" d="M610 488h1v1h-1z"/>
<path fill="rgb(213,213,213)" d="M611 488h1v1h-1z"/>
<path fill="rgb(192,192,192)" d="M612 488h1v1h-1z"/>
<path fill="rgb(171,171,171)" d="M608 489h1v1h-1z"/>
<path fill="rgb(213,213,213)" d="M609 489h1v1h-1z"/>
<path fill="rgb(171,171,171)" d="M610 489h1v1h-1z"/>
<path fill="rgb(213,213,213)" d="M611 489h2v1h-2z"/>
<path fill="rgb(234,234,234)" d="M613 489h1v1h-1z"/>
<path fill="rgb(192,192,192)" d="M609 490h2v1h-2z"/>
<path fill="rgb(213,213,213)" d="M612 490h1v1h-1z"/>
<path fill="rgb(234,234,234)" d="M613 490h1v1h-1zM607 491h1v1h-1z"/>
<path fill="rgb(192,192,192)" d="M608 491h1v1h-1z"/>
<path fill="rgb(234,234,234)" d="M609 491h1v1h-1z"/>
<path fill="rgb(192,192,192)" d="M610 491h1v1h-1z"/>
<path fill="rgb(234,234,234)" d="M611 491h1v1h-1z"/>
<path fill="rgb(192,192,192)" d="M612 491h1v1h-1z"/>
<path fill="rgb(234,234,234)" d="M610 492h1v1h-1zM621 485h1v1h-1z"/>
<path fill="rgb(213,213,213)" d="M622 485h1v1h-1z"/>
<path fill="rgb(192,192,192)" d="M623 485h2v1h-2z"/>
<path fill="rgb(213,213,213)" d="M626 485h1v1h-1z"/>
<path fill="rgb(234,234,234)" d="M627 485h1v1h-1z"/>
<path fill="rgb(213,213,213)" d="M622 486h1v1h-1z"/>
<path fill="rgb(192,192,192)" d="M623 486h2v1h-2z"/>
<path fill="rgb(213,213,213)" d="M625 486h2v1h-2z"/>
<path fill="rgb(234,234,234)" d="M621 487h2v1h-2z"/>
<path fill="rgb(192,192,192)" d="M624 487h1v1h-1z"/>
<path fill="rgb(234,234,234)" d="M625 487h1v1h-1z"/>
<path fill="rgb(213,213,213)" d="M621 488h1v1h-1z"/>
<path fill="rgb(234,234,234)" d="M622 488h2v1h-2z"/>
<path fill="rgb(171,171,171)" d="M624 488h1v1h-1z"/>
<path fill="rgb(192,192,192)" d="M625 488h2v1h-2z"/>
<path fill="rgb(213,213,213)" d="M627 488h1v1h-1z"/>
<path fill="rgb(234,234,234)" d="M621 489h1v1h-1z"/>
<path fill="rgb(213,213,213)" d="M622 489h1v1h-1z"/>
<path fill="rgb(192,192,192)" d="M623 489h2v1h-2z"/>
<path fill="rgb(213,213,213)" d="M626 489h1v1h-1zM623 490h1v1h-1z"/>
<path fill="rgb(192,192,192)" d="M624 490h1v1h-1zM626 490h1v1h-1z"/>
<path fill="rgb(234,234,234)" d="M621 491h1v1h-1z"/>
<path fill="rgb(192,192,192)" d="M622 491h1v1h-1z"/>
<path fill="rgb(234,234,234)" d="M623 491h1v1h-1z"/>
<path fill="rgb(192,192,192)" d="M624 491h2v1h-2z"/>
<path fill="rgb(213,213,213)" d="M627 491h1v1h-1z"/>
<path fill="rgb(0,0,0)" d="M530 496h1v1h-1zM532 496h1v1h-1zM534 496h2v1h-2zM530 497h5v1h-5zM532 498h1v1h-1zM534 498h1v1h-1zM530 499h1v1h-1zM532 499h1v1h-1zM534 499h3v1h-3zM531 500h5v1h-5zM530 501h1v1h-1zM532 501h1v1h-1zM534 501h2v1h-2zM530 502h1v1h-1zM532 502h2v1h-2zM535 502h1v1h-1zM531 503h3v1h-3zM535 503h1v1h-1zM539 496h1v1h-1zM540 497h5v1h-5zM543 498h1v1h-1zM539 499h1v1h-1zM543 499h1v1h-1zM543 500h1v1h-1zM540 501h1v1h-1zM543 501h1v1h-1zM539 502h1v1h-1zM543 502h1v1h-1zM539 503h7v1h-7zM549 496h1v1h-1zM551 496h4v1h-4zM552 497h3v1h-3zM548 498h8v1h-8zM549 499h1v1h-1zM552 499h2v1h-2zM549 500h6v1h-6zM549 501h4v1h-4zM554 501h1v1h-1zM549 502h2v1h-2zM552 502h1v1h-1zM554 502h1v1h-1zM549 503h1v1h-1zM552 503h3v1h-3zM558 496h6v1h-6zM558 497h6v1h-6zM558 498h3v1h-3zM562 498h1v1h-1zM557 499h8v1h-8zM558 500h5v1h-5zM558 501h2v1h-2zM562 501h2v1h-2zM558 502h6v1h-6zM557 503h8v1h-8zM567 496h7v1h-7zM568 497h2v1h-2zM571 497h3v1h-3zM568 498h1v1h-1zM570 498h4v1h-4zM567 499h7v1h-7zM568 500h6v1h-6zM568 501h6v1h-6zM568 502h2v1h-2zM571 502h1v1h-1zM567 503h8v1h-8zM577 496h1v1h-1zM580 496h3v1h-3zM580 497h1v1h-1zM582 497h1v1h-1zM576 498h2v1h-2zM579 498h1v1h-1zM582 498h2v1h-2zM577 499h1v1h-1zM577 500h1v1h-1zM579 500h4v1h-4zM577 501h1v1h-1zM580 501h1v1h-1zM582 501h1v1h-1zM577 502h2v1h-2zM580 502h2v1h-2zM577 503h1v1h-1zM579 503h5v1h-5zM587 496h3v1h-3zM591 496h1v1h-1zM586 497h1v1h-1zM589 497h5v1h-5zM587 498h6v1h-6zM587 499h1v1h-1zM589 499h4v1h-4zM586 500h4v1h-4zM592 500h1v1h-1zM587 501h1v1h-1zM589 501h5v1h-5zM587 502h3v1h-3zM592 502h1v1h-1zM587 503h7v1h-7zM597 496h4v1h-4zM596 497h2v1h-2zM600 497h1v1h-1zM598 498h2v1h-2zM596 499h6v1h-6zM596 500h1v1h-1zM598 500h1v1h-1zM601 500h1v1h-1zM596 501h6v1h-6zM596 502h5v1h-5zM598 503h1v1h-1zM601 503h1v1h-1zM606 496h2v1h-2zM612 496h1v1h-1zM605 497h4v1h-4zM610 497h3v1h-3zM605 498h1v1h-1zM607 498h1v1h-1zM610 498h3v1h-3zM606 499h3v1h-3zM610 499h3v1h-3zM606 500h7v1h-7zM606 501h2v1h-2zM609 501h1v1h-1zM612 501h1v1h-1zM606 502h2v1h-2zM609 502h1v1h-1zM612 502h1v1h-1zM607 503h2v1h-2zM611 503h1v1h-1zM615 496h1v1h-1zM617 496h4v1h-4zM619 497h1v1h-1zM617 498h5v1h-5zM614 499h2v1h-2zM615 500h1v1h-1zM617 500h4v1h-4zM615 501h1v1h-1zM617 501h4v1h-4zM615 502h1v1h-1zM614 503h8v1h-8zM627 496h1v1h-1zM624 497h8v1h-8zM626 498h1v1h-1zM625 499h6v1h-6zM624 500h7v1h-7zM626 501h1v1h-1zM629 501h2v1h-2zM626 502h5v1h-5zM626 503h1v1h-1zM629 503h2v1h-2zM634 496h6v1h-6zM635 497h3v1h-3zM639 497h1v1h-1zM634 498h6v1h-6zM634 499h6v1h-6zM635 500h4v1h-4zM634 501h6v1h-6zM636 502h4v1h-4zM636 503h2v1h-2zM640 503h1v1h-1zM645 497h1v1h-1zM648 497h1v1h-1zM644 498h2v1h-2zM648 498h2v1h-2zM644 499h1v1h-1zM646 499h1v1h-1zM649 499h2v1h-2zM646 500h1v1h-1zM645 501h1v1h-1zM648 501h1v1h-1zM644 502h6v1h-6zM644 503h1v1h-1zM649 503h1v1h-1zM653 496h6v1h-6zM658 497h1v1h-1zM653 498h4v1h-4zM658 498h1v1h-1zM658 499h1v1h-1zM653 500h4v1h-4zM658 500h1v1h-1zM653 501h4v1h-4zM658 501h1v1h-1zM653 502h1v1h-1zM658 502h1v1h-1zM657 503h2v1h-2zM457 452h1v1h-1zM462 452h1v1h-1zM468 452h7v1h-7zM476 452h5v1h-5zM454 453h1v1h-1zM457 453h1v1h-1zM462 453h1v1h-1zM470 453h1v1h-1zM472 453h1v1h-1zM480 453h1v1h-1zM484 453h12v1h-12zM455 454h1v1h-1zM457 454h1v1h-1zM459 454h8v1h-8zM470 454h1v1h-1zM472 454h1v1h-1zM480 454h1v1h-1zM484 454h1v1h-1zM488 454h1v1h-1zM495 454h1v1h-1zM457 455h1v1h-1zM462 455h1v1h-1zM468 455h7v1h-7zM480 455h1v1h-1zM484 455h1v1h-1zM488 455h5v1h-5zM495 455h1v1h-1zM456 456h2v1h-2zM462 456h1v1h-1zM468 456h1v1h-1zM470 456h1v1h-1zM472 456h1v1h-1zM474 456h1v1h-1zM480 456h1v1h-1zM484 456h1v1h-1zM487 456h1v1h-1zM492 456h1v1h-1zM495 456h1v1h-1zM454 457h2v1h-2zM457 457h1v1h-1zM459 457h7v1h-7zM468 457h1v1h-1zM470 457h1v1h-1zM472 457h1v1h-1zM474 457h1v1h-1zM476 457h5v1h-5zM484 457h1v1h-1zM486 457h1v1h-1zM488 457h1v1h-1zM491 457h1v1h-1zM495 457h1v1h-1zM457 458h1v1h-1zM459 458h1v1h-1zM468 458h1v1h-1zM470 458h1v1h-1zM472 458h1v1h-1zM474 458h1v1h-1zM476 458h1v1h-1zM480 458h1v1h-1zM484 458h1v1h-1zM489 458h2v1h-2zM495 458h1v1h-1zM460 459h1v1h-1zM468 459h2v1h-2zM472 459h3v1h-3zM476 459h1v1h-1zM484 459h1v1h-1zM487 459h2v1h-2zM491 459h2v1h-2zM495 459h1v1h-1zM453 460h14v1h-14zM468 460h1v1h-1zM474 460h1v1h-1zM476 460h1v1h-1zM484 460h3v1h-3zM489 460h2v1h-2zM493 460h3v1h-3zM458 461h1v1h-1zM460 461h1v1h-1zM464 461h1v1h-1zM468 461h7v1h-7zM476 461h1v1h-1zM484 461h1v1h-1zM491 461h1v1h-1zM495 461h1v1h-1zM457 462h1v1h-1zM461 462h1v1h-1zM463 462h1v1h-1zM468 462h1v1h-1zM474 462h1v1h-1zM476 462h1v1h-1zM484 462h1v1h-1zM488 462h2v1h-2zM495 462h1v1h-1zM455 463h3v1h-3zM462 463h1v1h-1zM468 463h1v1h-1zM474 463h1v1h-1zM476 463h1v1h-1zM481 463h1v1h-1zM484 463h1v1h-1zM490 463h1v1h-1zM495 463h1v1h-1zM453 464h2v1h-2zM457 464h1v1h-1zM459 464h1v1h-1zM463 464h1v1h-1zM468 464h7v1h-7zM476 464h1v1h-1zM481 464h1v1h-1zM484 464h1v1h-1zM495 464h1v1h-1zM457 465h2v1h-2zM464 465h3v1h-3zM468 465h1v1h-1zM474 465h1v1h-1zM477 465h5v1h-5zM484 465h12v1h-12z"/>
<path fill="#000" d="M248 439h209v1h-209zM456 438h206v1h-206zM248 439h1v69h-1zM248 447h162v1h-162zM248 455h162v1h-162zM248 466h162v1h-162zM248 477h162v1h-162zM248 487h162v1h-162zM248 498h162v1h-162zM248 507h414v1h-414zM274 439h1v28h-1zM297 439h1v69h-1zM331 439h1v69h-1zM375 439h1v28h-1zM366 466h1v42h-1zM409 439h1v69h-1zM409 482h253v1h-253zM443 482h1v26h-1zM527 438h1v70h-1zM526 452h136v1h-136zM527 464h135v1h-135zM526 492h136v1h-136zM610 438h1v15h-1zM633 438h1v45h-1zM588 452h1v41h-1zM542 464h1v19h-1zM557 464h1v19h-1zM573 464h1v19h-1z"/>
</svg>
</body></html>
